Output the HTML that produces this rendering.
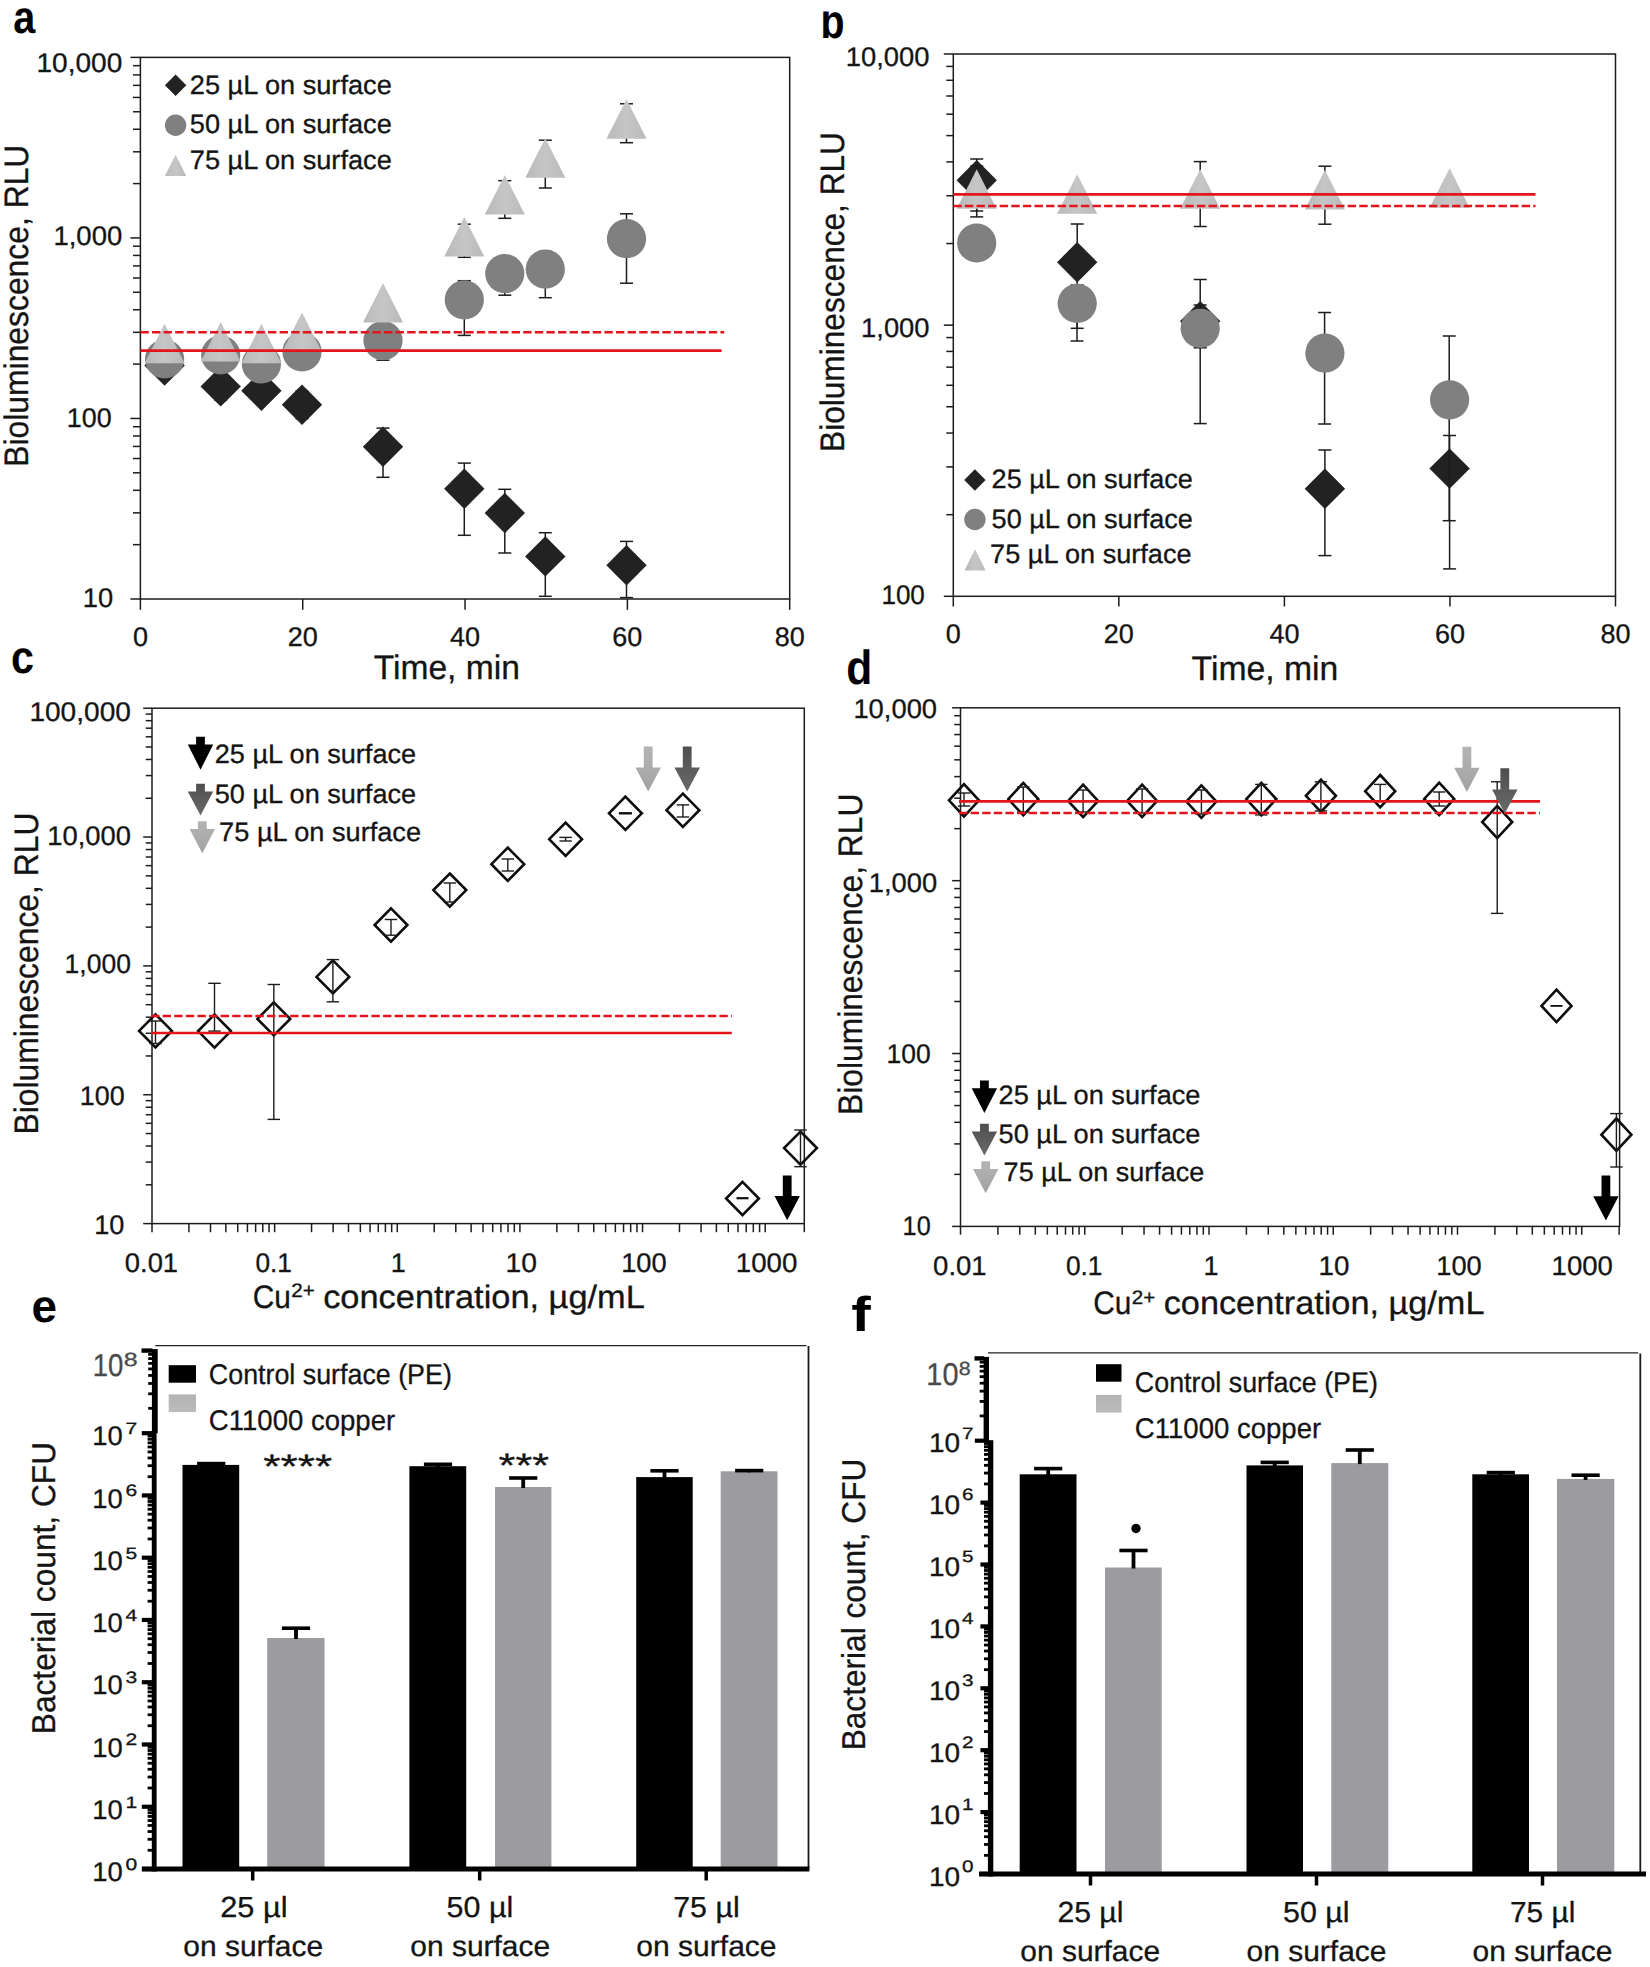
<!DOCTYPE html>
<html lang="en">
<head>
<meta charset="utf-8">
<title>Figure: bioluminescence and bacterial counts on copper surfaces</title>
<style>
html,body{margin:0;padding:0;background:#fff;}
body{width:1650px;height:1967px;overflow:hidden;}
svg{display:block;}
text{stroke:#141414;stroke-width:.3px;}
text[fill="#4a4a4a"]{stroke:#4a4a4a;}
text[font-weight="bold"]{stroke:none;}
</style>
</head>
<body>
<svg width="1650" height="1967" viewBox="0 0 1650 1967" font-family='"Liberation Sans", "DejaVu Sans", sans-serif' fill="#141414" text-rendering="geometricPrecision">
<defs>
<linearGradient id="tg" x1="0" y1="0" x2="1" y2="0"><stop offset="0" stop-color="#b9b9b9"/><stop offset="0.5" stop-color="#c6c6c6"/><stop offset="1" stop-color="#b9b9b9"/></linearGradient>
<linearGradient id="lg" x1="0" y1="0" x2="0" y2="1"><stop offset="0" stop-color="#b4b4b4"/><stop offset="1" stop-color="#a2a2a2"/></linearGradient>
<linearGradient id="dg" x1="0" y1="0" x2="0" y2="1"><stop offset="0" stop-color="#4e4e4e"/><stop offset="1" stop-color="#6a6a6a"/></linearGradient>
<linearGradient id="gsw" x1="0" y1="0" x2="0" y2="1"><stop offset="0" stop-color="#b3b3b3"/><stop offset="1" stop-color="#bcbcbc"/></linearGradient>
<clipPath id="clipb"><rect x="815" y="11.4" width="40" height="40"/></clipPath>
</defs>
<rect x="140.4" y="57.4" width="649.3" height="541.6" fill="none" stroke="#1c1c1c" stroke-width="1.5"/>
<line x1="130.4" y1="57.4" x2="140.4" y2="57.4" stroke="#1c1c1c" stroke-width="1.5"/>
<line x1="133" y1="183.59" x2="140.4" y2="183.59" stroke="#1c1c1c" stroke-width="1.5"/>
<line x1="133" y1="151.8" x2="140.4" y2="151.8" stroke="#1c1c1c" stroke-width="1.5"/>
<line x1="133" y1="129.24" x2="140.4" y2="129.24" stroke="#1c1c1c" stroke-width="1.5"/>
<line x1="133" y1="111.75" x2="140.4" y2="111.75" stroke="#1c1c1c" stroke-width="1.5"/>
<line x1="133" y1="97.45" x2="140.4" y2="97.45" stroke="#1c1c1c" stroke-width="1.5"/>
<line x1="133" y1="85.36" x2="140.4" y2="85.36" stroke="#1c1c1c" stroke-width="1.5"/>
<line x1="133" y1="74.9" x2="140.4" y2="74.9" stroke="#1c1c1c" stroke-width="1.5"/>
<line x1="133" y1="65.66" x2="140.4" y2="65.66" stroke="#1c1c1c" stroke-width="1.5"/>
<line x1="130.4" y1="237.93" x2="140.4" y2="237.93" stroke="#1c1c1c" stroke-width="1.5"/>
<line x1="133" y1="364.12" x2="140.4" y2="364.12" stroke="#1c1c1c" stroke-width="1.5"/>
<line x1="133" y1="332.33" x2="140.4" y2="332.33" stroke="#1c1c1c" stroke-width="1.5"/>
<line x1="133" y1="309.77" x2="140.4" y2="309.77" stroke="#1c1c1c" stroke-width="1.5"/>
<line x1="133" y1="292.28" x2="140.4" y2="292.28" stroke="#1c1c1c" stroke-width="1.5"/>
<line x1="133" y1="277.98" x2="140.4" y2="277.98" stroke="#1c1c1c" stroke-width="1.5"/>
<line x1="133" y1="265.9" x2="140.4" y2="265.9" stroke="#1c1c1c" stroke-width="1.5"/>
<line x1="133" y1="255.43" x2="140.4" y2="255.43" stroke="#1c1c1c" stroke-width="1.5"/>
<line x1="133" y1="246.19" x2="140.4" y2="246.19" stroke="#1c1c1c" stroke-width="1.5"/>
<line x1="130.4" y1="418.47" x2="140.4" y2="418.47" stroke="#1c1c1c" stroke-width="1.5"/>
<line x1="133" y1="544.65" x2="140.4" y2="544.65" stroke="#1c1c1c" stroke-width="1.5"/>
<line x1="133" y1="512.86" x2="140.4" y2="512.86" stroke="#1c1c1c" stroke-width="1.5"/>
<line x1="133" y1="490.31" x2="140.4" y2="490.31" stroke="#1c1c1c" stroke-width="1.5"/>
<line x1="133" y1="472.81" x2="140.4" y2="472.81" stroke="#1c1c1c" stroke-width="1.5"/>
<line x1="133" y1="458.52" x2="140.4" y2="458.52" stroke="#1c1c1c" stroke-width="1.5"/>
<line x1="133" y1="446.43" x2="140.4" y2="446.43" stroke="#1c1c1c" stroke-width="1.5"/>
<line x1="133" y1="435.96" x2="140.4" y2="435.96" stroke="#1c1c1c" stroke-width="1.5"/>
<line x1="133" y1="426.73" x2="140.4" y2="426.73" stroke="#1c1c1c" stroke-width="1.5"/>
<line x1="130.4" y1="599" x2="140.4" y2="599" stroke="#1c1c1c" stroke-width="1.5"/>
<line x1="140.4" y1="599" x2="140.4" y2="609.8" stroke="#1c1c1c" stroke-width="1.5"/>
<text x="140.4" y="646.2" font-size="27" text-anchor="middle">0</text>
<line x1="302.73" y1="599" x2="302.73" y2="609.8" stroke="#1c1c1c" stroke-width="1.5"/>
<text x="302.73" y="646.2" font-size="27" text-anchor="middle">20</text>
<line x1="465.05" y1="599" x2="465.05" y2="609.8" stroke="#1c1c1c" stroke-width="1.5"/>
<text x="465.05" y="646.2" font-size="27" text-anchor="middle">40</text>
<line x1="627.38" y1="599" x2="627.38" y2="609.8" stroke="#1c1c1c" stroke-width="1.5"/>
<text x="627.38" y="646.2" font-size="27" text-anchor="middle">60</text>
<line x1="789.7" y1="599" x2="789.7" y2="609.8" stroke="#1c1c1c" stroke-width="1.5"/>
<text x="789.7" y="646.2" font-size="27" text-anchor="middle">80</text>
<text x="36.52" y="71.5" font-size="27" textLength="85.76" lengthAdjust="spacingAndGlyphs">10,000</text>
<text x="53.42" y="245.4" font-size="27" textLength="68.86" lengthAdjust="spacingAndGlyphs">1,000</text>
<text x="66.82" y="426.5" font-size="27" textLength="44.86" lengthAdjust="spacingAndGlyphs">100</text>
<text x="82.82" y="607.3" font-size="27" textLength="30.36" lengthAdjust="spacingAndGlyphs">10</text>
<text x="373.64" y="678.9" font-size="34" textLength="146.32" lengthAdjust="spacingAndGlyphs">Time, min</text>
<text font-size="34" textLength="322.12" lengthAdjust="spacingAndGlyphs" transform="translate(28.3 466.76) rotate(-90)">Bioluminescence, RLU</text>
<text x="13.2" y="32.6" font-size="46" textLength="22" lengthAdjust="spacingAndGlyphs" font-weight="bold" fill="#000">a</text>
<line x1="220.7" y1="373" x2="220.7" y2="400.1" stroke="#1c1c1c" stroke-width="1.5"/>
<line x1="214.2" y1="373" x2="227.2" y2="373" stroke="#1c1c1c" stroke-width="1.5"/>
<line x1="214.2" y1="400.1" x2="227.2" y2="400.1" stroke="#1c1c1c" stroke-width="1.5"/>
<line x1="302" y1="391" x2="302" y2="418.7" stroke="#1c1c1c" stroke-width="1.5"/>
<line x1="295.5" y1="391" x2="308.5" y2="391" stroke="#1c1c1c" stroke-width="1.5"/>
<line x1="295.5" y1="418.7" x2="308.5" y2="418.7" stroke="#1c1c1c" stroke-width="1.5"/>
<line x1="383" y1="428.1" x2="383" y2="477.3" stroke="#1c1c1c" stroke-width="1.5"/>
<line x1="376.5" y1="428.1" x2="389.5" y2="428.1" stroke="#1c1c1c" stroke-width="1.5"/>
<line x1="376.5" y1="477.3" x2="389.5" y2="477.3" stroke="#1c1c1c" stroke-width="1.5"/>
<line x1="464.3" y1="463.1" x2="464.3" y2="535.3" stroke="#1c1c1c" stroke-width="1.5"/>
<line x1="457.8" y1="463.1" x2="470.8" y2="463.1" stroke="#1c1c1c" stroke-width="1.5"/>
<line x1="457.8" y1="535.3" x2="470.8" y2="535.3" stroke="#1c1c1c" stroke-width="1.5"/>
<line x1="504.8" y1="489.3" x2="504.8" y2="553" stroke="#1c1c1c" stroke-width="1.5"/>
<line x1="498.3" y1="489.3" x2="511.3" y2="489.3" stroke="#1c1c1c" stroke-width="1.5"/>
<line x1="498.3" y1="553" x2="511.3" y2="553" stroke="#1c1c1c" stroke-width="1.5"/>
<line x1="545.3" y1="532.7" x2="545.3" y2="596.3" stroke="#1c1c1c" stroke-width="1.5"/>
<line x1="538.8" y1="532.7" x2="551.8" y2="532.7" stroke="#1c1c1c" stroke-width="1.5"/>
<line x1="538.8" y1="596.3" x2="551.8" y2="596.3" stroke="#1c1c1c" stroke-width="1.5"/>
<line x1="626.5" y1="541.4" x2="626.5" y2="597.6" stroke="#1c1c1c" stroke-width="1.5"/>
<line x1="620" y1="541.4" x2="633" y2="541.4" stroke="#1c1c1c" stroke-width="1.5"/>
<line x1="620" y1="597.6" x2="633" y2="597.6" stroke="#1c1c1c" stroke-width="1.5"/>
<polygon points="164.6,345.3 184.8,365.5 164.6,385.7 144.4,365.5" fill="#222222"/>
<polygon points="220.7,366.2 240.9,386.4 220.7,406.6 200.5,386.4" fill="#222222"/>
<polygon points="261.4,370.5 281.6,390.7 261.4,410.9 241.2,390.7" fill="#222222"/>
<polygon points="302,384.5 322.2,404.7 302,424.9 281.8,404.7" fill="#222222"/>
<polygon points="383,426.5 403.2,446.7 383,466.9 362.8,446.7" fill="#222222"/>
<polygon points="464.3,468.6 484.5,488.8 464.3,509 444.1,488.8" fill="#222222"/>
<polygon points="504.8,492.8 525,513 504.8,533.2 484.6,513" fill="#222222"/>
<polygon points="545.3,536.2 565.5,556.4 545.3,576.6 525.1,556.4" fill="#222222"/>
<polygon points="626.5,545.1 646.7,565.3 626.5,585.5 606.3,565.3" fill="#222222"/>
<line x1="383" y1="322" x2="383" y2="360.2" stroke="#1c1c1c" stroke-width="1.5"/>
<line x1="376.5" y1="322" x2="389.5" y2="322" stroke="#1c1c1c" stroke-width="1.5"/>
<line x1="376.5" y1="360.2" x2="389.5" y2="360.2" stroke="#1c1c1c" stroke-width="1.5"/>
<line x1="464.3" y1="280.7" x2="464.3" y2="335.4" stroke="#1c1c1c" stroke-width="1.5"/>
<line x1="457.8" y1="280.7" x2="470.8" y2="280.7" stroke="#1c1c1c" stroke-width="1.5"/>
<line x1="457.8" y1="335.4" x2="470.8" y2="335.4" stroke="#1c1c1c" stroke-width="1.5"/>
<line x1="504.8" y1="258" x2="504.8" y2="295.2" stroke="#1c1c1c" stroke-width="1.5"/>
<line x1="498.3" y1="258" x2="511.3" y2="258" stroke="#1c1c1c" stroke-width="1.5"/>
<line x1="498.3" y1="295.2" x2="511.3" y2="295.2" stroke="#1c1c1c" stroke-width="1.5"/>
<line x1="545.3" y1="251.4" x2="545.3" y2="297.7" stroke="#1c1c1c" stroke-width="1.5"/>
<line x1="538.8" y1="251.4" x2="551.8" y2="251.4" stroke="#1c1c1c" stroke-width="1.5"/>
<line x1="538.8" y1="297.7" x2="551.8" y2="297.7" stroke="#1c1c1c" stroke-width="1.5"/>
<line x1="626.5" y1="213.8" x2="626.5" y2="283.2" stroke="#1c1c1c" stroke-width="1.5"/>
<line x1="620" y1="213.8" x2="633" y2="213.8" stroke="#1c1c1c" stroke-width="1.5"/>
<line x1="620" y1="283.2" x2="633" y2="283.2" stroke="#1c1c1c" stroke-width="1.5"/>
<circle cx="164.6" cy="359" r="19.6" fill="#808080"/>
<circle cx="220.7" cy="355" r="19.6" fill="#808080"/>
<circle cx="261.4" cy="364" r="19.6" fill="#808080"/>
<circle cx="302" cy="351.8" r="19.6" fill="#808080"/>
<circle cx="383" cy="340.6" r="19.6" fill="#808080"/>
<circle cx="464.3" cy="299.8" r="19.6" fill="#808080"/>
<circle cx="504.8" cy="273.6" r="19.6" fill="#808080"/>
<circle cx="545.3" cy="269.2" r="19.6" fill="#808080"/>
<circle cx="626.5" cy="238.7" r="19.6" fill="#808080"/>
<line x1="464.3" y1="224.2" x2="464.3" y2="257.3" stroke="#1c1c1c" stroke-width="1.5"/>
<line x1="457.8" y1="224.2" x2="470.8" y2="224.2" stroke="#1c1c1c" stroke-width="1.5"/>
<line x1="457.8" y1="257.3" x2="470.8" y2="257.3" stroke="#1c1c1c" stroke-width="1.5"/>
<line x1="504.8" y1="180.7" x2="504.8" y2="218.3" stroke="#1c1c1c" stroke-width="1.5"/>
<line x1="498.3" y1="180.7" x2="511.3" y2="180.7" stroke="#1c1c1c" stroke-width="1.5"/>
<line x1="498.3" y1="218.3" x2="511.3" y2="218.3" stroke="#1c1c1c" stroke-width="1.5"/>
<line x1="545.3" y1="140.2" x2="545.3" y2="188" stroke="#1c1c1c" stroke-width="1.5"/>
<line x1="538.8" y1="140.2" x2="551.8" y2="140.2" stroke="#1c1c1c" stroke-width="1.5"/>
<line x1="538.8" y1="188" x2="551.8" y2="188" stroke="#1c1c1c" stroke-width="1.5"/>
<line x1="626.5" y1="103.8" x2="626.5" y2="142.7" stroke="#1c1c1c" stroke-width="1.5"/>
<line x1="620" y1="103.8" x2="633" y2="103.8" stroke="#1c1c1c" stroke-width="1.5"/>
<line x1="620" y1="142.7" x2="633" y2="142.7" stroke="#1c1c1c" stroke-width="1.5"/>
<polygon points="164.6,323.8 184.6,363.3 144.6,363.3" fill="url(#tg)"/>
<polygon points="220.7,322 240.7,361.5 200.7,361.5" fill="url(#tg)"/>
<polygon points="261.4,323.8 281.4,363.3 241.4,363.3" fill="url(#tg)"/>
<polygon points="302,312.6 322,352.1 282,352.1" fill="url(#tg)"/>
<polygon points="383,283 403,322.5 363,322.5" fill="url(#tg)"/>
<polygon points="464.3,217 484.3,256.5 444.3,256.5" fill="url(#tg)"/>
<polygon points="504.8,175 524.8,214.5 484.8,214.5" fill="url(#tg)"/>
<polygon points="545.3,138.2 565.3,177.7 525.3,177.7" fill="url(#tg)"/>
<polygon points="626.5,99.2 646.5,138.7 606.5,138.7" fill="url(#tg)"/>
<line x1="140.4" y1="332.2" x2="724.2" y2="332.2" stroke="#e3141c" stroke-width="2.6" stroke-dasharray="8.4 3.2"/>
<line x1="140.4" y1="350.6" x2="721.6" y2="350.6" stroke="#e3141c" stroke-width="2.7"/>
<polygon points="175.6,74.6 186.3,85.3 175.6,96 164.9,85.3" fill="#222222"/>
<circle cx="175.6" cy="125.2" r="10.7" fill="#808080"/>
<polygon points="175.6,154.7 186.25,176.1 164.95,176.1" fill="url(#tg)"/>
<text x="189.84" y="94" font-size="26.5" textLength="201.92" lengthAdjust="spacingAndGlyphs">25 µL on surface</text>
<text x="189.84" y="132.9" font-size="26.5" textLength="201.92" lengthAdjust="spacingAndGlyphs">50 µL on surface</text>
<text x="189.84" y="168.6" font-size="26.5" textLength="201.92" lengthAdjust="spacingAndGlyphs">75 µL on surface</text>
<!-- b -->
<rect x="953.3" y="54" width="662.2" height="542.3" fill="none" stroke="#1c1c1c" stroke-width="1.5"/>
<line x1="943.8" y1="54" x2="953.3" y2="54" stroke="#1c1c1c" stroke-width="1.5"/>
<line x1="946.3" y1="243.53" x2="953.3" y2="243.53" stroke="#1c1c1c" stroke-width="1.5"/>
<line x1="946.3" y1="195.78" x2="953.3" y2="195.78" stroke="#1c1c1c" stroke-width="1.5"/>
<line x1="946.3" y1="161.9" x2="953.3" y2="161.9" stroke="#1c1c1c" stroke-width="1.5"/>
<line x1="946.3" y1="135.62" x2="953.3" y2="135.62" stroke="#1c1c1c" stroke-width="1.5"/>
<line x1="946.3" y1="114.15" x2="953.3" y2="114.15" stroke="#1c1c1c" stroke-width="1.5"/>
<line x1="946.3" y1="96" x2="953.3" y2="96" stroke="#1c1c1c" stroke-width="1.5"/>
<line x1="946.3" y1="80.28" x2="953.3" y2="80.28" stroke="#1c1c1c" stroke-width="1.5"/>
<line x1="946.3" y1="66.41" x2="953.3" y2="66.41" stroke="#1c1c1c" stroke-width="1.5"/>
<line x1="943.8" y1="325.15" x2="953.3" y2="325.15" stroke="#1c1c1c" stroke-width="1.5"/>
<line x1="946.3" y1="514.68" x2="953.3" y2="514.68" stroke="#1c1c1c" stroke-width="1.5"/>
<line x1="946.3" y1="466.93" x2="953.3" y2="466.93" stroke="#1c1c1c" stroke-width="1.5"/>
<line x1="946.3" y1="433.05" x2="953.3" y2="433.05" stroke="#1c1c1c" stroke-width="1.5"/>
<line x1="946.3" y1="406.77" x2="953.3" y2="406.77" stroke="#1c1c1c" stroke-width="1.5"/>
<line x1="946.3" y1="385.3" x2="953.3" y2="385.3" stroke="#1c1c1c" stroke-width="1.5"/>
<line x1="946.3" y1="367.15" x2="953.3" y2="367.15" stroke="#1c1c1c" stroke-width="1.5"/>
<line x1="946.3" y1="351.43" x2="953.3" y2="351.43" stroke="#1c1c1c" stroke-width="1.5"/>
<line x1="946.3" y1="337.56" x2="953.3" y2="337.56" stroke="#1c1c1c" stroke-width="1.5"/>
<line x1="943.8" y1="596.3" x2="953.3" y2="596.3" stroke="#1c1c1c" stroke-width="1.5"/>
<line x1="953.3" y1="596.3" x2="953.3" y2="606.5" stroke="#1c1c1c" stroke-width="1.5"/>
<text x="953.3" y="642.6" font-size="27" text-anchor="middle">0</text>
<line x1="1118.85" y1="596.3" x2="1118.85" y2="606.5" stroke="#1c1c1c" stroke-width="1.5"/>
<text x="1118.85" y="642.6" font-size="27" text-anchor="middle">20</text>
<line x1="1284.4" y1="596.3" x2="1284.4" y2="606.5" stroke="#1c1c1c" stroke-width="1.5"/>
<text x="1284.4" y="642.6" font-size="27" text-anchor="middle">40</text>
<line x1="1449.95" y1="596.3" x2="1449.95" y2="606.5" stroke="#1c1c1c" stroke-width="1.5"/>
<text x="1449.95" y="642.6" font-size="27" text-anchor="middle">60</text>
<line x1="1615.5" y1="596.3" x2="1615.5" y2="606.5" stroke="#1c1c1c" stroke-width="1.5"/>
<text x="1615.5" y="642.6" font-size="27" text-anchor="middle">80</text>
<text x="845.82" y="66" font-size="27" textLength="83.66" lengthAdjust="spacingAndGlyphs">10,000</text>
<text x="861.12" y="336.8" font-size="27" textLength="68.36" lengthAdjust="spacingAndGlyphs">1,000</text>
<text x="881.42" y="604.3" font-size="27" textLength="43.46" lengthAdjust="spacingAndGlyphs">100</text>
<text x="1191.54" y="679.8" font-size="34" textLength="146.82" lengthAdjust="spacingAndGlyphs">Time, min</text>
<text font-size="34" textLength="319.92" lengthAdjust="spacingAndGlyphs" transform="translate(844.4 451.96) rotate(-90)">Bioluminescence, RLU</text>
<text x="820.6" y="38" font-size="48" textLength="24" lengthAdjust="spacingAndGlyphs" font-weight="bold" fill="#000" clip-path="url(#clipb)">b</text>
<line x1="976.7" y1="159" x2="976.7" y2="216.9" stroke="#1c1c1c" stroke-width="1.5"/>
<line x1="970.2" y1="159" x2="983.2" y2="159" stroke="#1c1c1c" stroke-width="1.5"/>
<line x1="970.2" y1="216.9" x2="983.2" y2="216.9" stroke="#1c1c1c" stroke-width="1.5"/>
<line x1="1077.2" y1="224" x2="1077.2" y2="328.3" stroke="#1c1c1c" stroke-width="1.5"/>
<line x1="1070.7" y1="224" x2="1083.7" y2="224" stroke="#1c1c1c" stroke-width="1.5"/>
<line x1="1070.7" y1="328.3" x2="1083.7" y2="328.3" stroke="#1c1c1c" stroke-width="1.5"/>
<line x1="1200.2" y1="279.5" x2="1200.2" y2="347.8" stroke="#1c1c1c" stroke-width="1.5"/>
<line x1="1193.7" y1="279.5" x2="1206.7" y2="279.5" stroke="#1c1c1c" stroke-width="1.5"/>
<line x1="1193.7" y1="347.8" x2="1206.7" y2="347.8" stroke="#1c1c1c" stroke-width="1.5"/>
<line x1="1324.9" y1="450" x2="1324.9" y2="555.6" stroke="#1c1c1c" stroke-width="1.5"/>
<line x1="1318.4" y1="450" x2="1331.4" y2="450" stroke="#1c1c1c" stroke-width="1.5"/>
<line x1="1318.4" y1="555.6" x2="1331.4" y2="555.6" stroke="#1c1c1c" stroke-width="1.5"/>
<line x1="1449.6" y1="435.5" x2="1449.6" y2="568.9" stroke="#1c1c1c" stroke-width="1.5"/>
<line x1="1443.1" y1="435.5" x2="1456.1" y2="435.5" stroke="#1c1c1c" stroke-width="1.5"/>
<line x1="1443.1" y1="568.9" x2="1456.1" y2="568.9" stroke="#1c1c1c" stroke-width="1.5"/>
<polygon points="976.7,160 996.9,180.2 976.7,200.4 956.5,180.2" fill="#222222"/>
<polygon points="1077.2,242 1097.4,262.2 1077.2,282.4 1057,262.2" fill="#222222"/>
<polygon points="1200.2,301 1220.4,321.2 1200.2,341.4 1180,321.2" fill="#222222"/>
<polygon points="1324.9,468.5 1345.1,488.7 1324.9,508.9 1304.7,488.7" fill="#222222"/>
<polygon points="1449.6,448.4 1469.8,468.6 1449.6,488.8 1429.4,468.6" fill="#222222"/>
<line x1="1077" y1="285" x2="1077" y2="341" stroke="#1c1c1c" stroke-width="1.5"/>
<line x1="1070.5" y1="285" x2="1083.5" y2="285" stroke="#1c1c1c" stroke-width="1.5"/>
<line x1="1070.5" y1="341" x2="1083.5" y2="341" stroke="#1c1c1c" stroke-width="1.5"/>
<line x1="1200.2" y1="305" x2="1200.2" y2="423.6" stroke="#1c1c1c" stroke-width="1.5"/>
<line x1="1193.7" y1="305" x2="1206.7" y2="305" stroke="#1c1c1c" stroke-width="1.5"/>
<line x1="1193.7" y1="423.6" x2="1206.7" y2="423.6" stroke="#1c1c1c" stroke-width="1.5"/>
<line x1="1324.6" y1="312.5" x2="1324.6" y2="424" stroke="#1c1c1c" stroke-width="1.5"/>
<line x1="1318.1" y1="312.5" x2="1331.1" y2="312.5" stroke="#1c1c1c" stroke-width="1.5"/>
<line x1="1318.1" y1="424" x2="1331.1" y2="424" stroke="#1c1c1c" stroke-width="1.5"/>
<line x1="1449.2" y1="336" x2="1449.2" y2="520.7" stroke="#1c1c1c" stroke-width="1.5"/>
<line x1="1442.7" y1="336" x2="1455.7" y2="336" stroke="#1c1c1c" stroke-width="1.5"/>
<line x1="1442.7" y1="520.7" x2="1455.7" y2="520.7" stroke="#1c1c1c" stroke-width="1.5"/>
<circle cx="976.7" cy="243" r="19.6" fill="#808080"/>
<circle cx="1077.2" cy="303.4" r="19.6" fill="#808080"/>
<circle cx="1200.2" cy="328.3" r="19.6" fill="#808080"/>
<circle cx="1324.9" cy="353.2" r="19.6" fill="#808080"/>
<circle cx="1449.6" cy="399.8" r="19.6" fill="#808080"/>
<line x1="976.7" y1="166" x2="976.7" y2="211" stroke="#1c1c1c" stroke-width="1.5"/>
<line x1="970.2" y1="166" x2="983.2" y2="166" stroke="#1c1c1c" stroke-width="1.5"/>
<line x1="970.2" y1="211" x2="983.2" y2="211" stroke="#1c1c1c" stroke-width="1.5"/>
<line x1="1200.2" y1="161.6" x2="1200.2" y2="226.5" stroke="#1c1c1c" stroke-width="1.5"/>
<line x1="1193.7" y1="161.6" x2="1206.7" y2="161.6" stroke="#1c1c1c" stroke-width="1.5"/>
<line x1="1193.7" y1="226.5" x2="1206.7" y2="226.5" stroke="#1c1c1c" stroke-width="1.5"/>
<line x1="1324.9" y1="166.2" x2="1324.9" y2="224.2" stroke="#1c1c1c" stroke-width="1.5"/>
<line x1="1318.4" y1="166.2" x2="1331.4" y2="166.2" stroke="#1c1c1c" stroke-width="1.5"/>
<line x1="1318.4" y1="224.2" x2="1331.4" y2="224.2" stroke="#1c1c1c" stroke-width="1.5"/>
<polygon points="976.7,169.3 996.7,208.8 956.7,208.8" fill="url(#tg)"/>
<polygon points="1077.2,174.3 1097.2,213.8 1057.2,213.8" fill="url(#tg)"/>
<polygon points="1200.2,169.3 1220.2,208.8 1180.2,208.8" fill="url(#tg)"/>
<polygon points="1324.9,170 1344.9,209.5 1304.9,209.5" fill="url(#tg)"/>
<polygon points="1449.6,168.2 1469.6,207.7 1429.6,207.7" fill="url(#tg)"/>
<line x1="953.3" y1="194.4" x2="1535.5" y2="194.4" stroke="#e3141c" stroke-width="2.9"/>
<line x1="953.3" y1="205.9" x2="1535.5" y2="205.9" stroke="#e3141c" stroke-width="2.5" stroke-dasharray="8.4 3.2"/>
<polygon points="974.9,469.3 985.6,480 974.9,490.7 964.2,480" fill="#222222"/>
<circle cx="974.9" cy="519.5" r="10.7" fill="#808080"/>
<polygon points="975,549.3 985.55,570.4 964.45,570.4" fill="url(#tg)"/>
<text x="991.64" y="488.2" font-size="26.5" textLength="201.22" lengthAdjust="spacingAndGlyphs">25 µL on surface</text>
<text x="991.64" y="528.4" font-size="26.5" textLength="201.22" lengthAdjust="spacingAndGlyphs">50 µL on surface</text>
<text x="990.14" y="563.3" font-size="26.5" textLength="201.42" lengthAdjust="spacingAndGlyphs">75 µL on surface</text>
<!-- c -->
<rect x="152" y="708.2" width="652.3" height="515.4" fill="none" stroke="#1c1c1c" stroke-width="1.5"/>
<line x1="143.2" y1="708.2" x2="152" y2="708.2" stroke="#1c1c1c" stroke-width="1.5"/>
<line x1="145.7" y1="798.26" x2="152" y2="798.26" stroke="#1c1c1c" stroke-width="1.5"/>
<line x1="145.7" y1="775.57" x2="152" y2="775.57" stroke="#1c1c1c" stroke-width="1.5"/>
<line x1="145.7" y1="759.47" x2="152" y2="759.47" stroke="#1c1c1c" stroke-width="1.5"/>
<line x1="145.7" y1="746.99" x2="152" y2="746.99" stroke="#1c1c1c" stroke-width="1.5"/>
<line x1="145.7" y1="736.79" x2="152" y2="736.79" stroke="#1c1c1c" stroke-width="1.5"/>
<line x1="145.7" y1="728.16" x2="152" y2="728.16" stroke="#1c1c1c" stroke-width="1.5"/>
<line x1="145.7" y1="720.69" x2="152" y2="720.69" stroke="#1c1c1c" stroke-width="1.5"/>
<line x1="145.7" y1="714.1" x2="152" y2="714.1" stroke="#1c1c1c" stroke-width="1.5"/>
<line x1="143.2" y1="837.05" x2="152" y2="837.05" stroke="#1c1c1c" stroke-width="1.5"/>
<line x1="145.7" y1="927.11" x2="152" y2="927.11" stroke="#1c1c1c" stroke-width="1.5"/>
<line x1="145.7" y1="904.42" x2="152" y2="904.42" stroke="#1c1c1c" stroke-width="1.5"/>
<line x1="145.7" y1="888.32" x2="152" y2="888.32" stroke="#1c1c1c" stroke-width="1.5"/>
<line x1="145.7" y1="875.84" x2="152" y2="875.84" stroke="#1c1c1c" stroke-width="1.5"/>
<line x1="145.7" y1="865.64" x2="152" y2="865.64" stroke="#1c1c1c" stroke-width="1.5"/>
<line x1="145.7" y1="857.01" x2="152" y2="857.01" stroke="#1c1c1c" stroke-width="1.5"/>
<line x1="145.7" y1="849.54" x2="152" y2="849.54" stroke="#1c1c1c" stroke-width="1.5"/>
<line x1="145.7" y1="842.95" x2="152" y2="842.95" stroke="#1c1c1c" stroke-width="1.5"/>
<line x1="143.2" y1="965.9" x2="152" y2="965.9" stroke="#1c1c1c" stroke-width="1.5"/>
<line x1="145.7" y1="1055.96" x2="152" y2="1055.96" stroke="#1c1c1c" stroke-width="1.5"/>
<line x1="145.7" y1="1033.27" x2="152" y2="1033.27" stroke="#1c1c1c" stroke-width="1.5"/>
<line x1="145.7" y1="1017.17" x2="152" y2="1017.17" stroke="#1c1c1c" stroke-width="1.5"/>
<line x1="145.7" y1="1004.69" x2="152" y2="1004.69" stroke="#1c1c1c" stroke-width="1.5"/>
<line x1="145.7" y1="994.49" x2="152" y2="994.49" stroke="#1c1c1c" stroke-width="1.5"/>
<line x1="145.7" y1="985.86" x2="152" y2="985.86" stroke="#1c1c1c" stroke-width="1.5"/>
<line x1="145.7" y1="978.39" x2="152" y2="978.39" stroke="#1c1c1c" stroke-width="1.5"/>
<line x1="145.7" y1="971.8" x2="152" y2="971.8" stroke="#1c1c1c" stroke-width="1.5"/>
<line x1="143.2" y1="1094.75" x2="152" y2="1094.75" stroke="#1c1c1c" stroke-width="1.5"/>
<line x1="145.7" y1="1184.81" x2="152" y2="1184.81" stroke="#1c1c1c" stroke-width="1.5"/>
<line x1="145.7" y1="1162.12" x2="152" y2="1162.12" stroke="#1c1c1c" stroke-width="1.5"/>
<line x1="145.7" y1="1146.02" x2="152" y2="1146.02" stroke="#1c1c1c" stroke-width="1.5"/>
<line x1="145.7" y1="1133.54" x2="152" y2="1133.54" stroke="#1c1c1c" stroke-width="1.5"/>
<line x1="145.7" y1="1123.34" x2="152" y2="1123.34" stroke="#1c1c1c" stroke-width="1.5"/>
<line x1="145.7" y1="1114.71" x2="152" y2="1114.71" stroke="#1c1c1c" stroke-width="1.5"/>
<line x1="145.7" y1="1107.24" x2="152" y2="1107.24" stroke="#1c1c1c" stroke-width="1.5"/>
<line x1="145.7" y1="1100.65" x2="152" y2="1100.65" stroke="#1c1c1c" stroke-width="1.5"/>
<line x1="143.2" y1="1223.6" x2="152" y2="1223.6" stroke="#1c1c1c" stroke-width="1.5"/>
<line x1="152" y1="1223.6" x2="152" y2="1232.2" stroke="#1c1c1c" stroke-width="1.5"/>
<line x1="188.92" y1="1223.6" x2="188.92" y2="1232.2" stroke="#1c1c1c" stroke-width="1.5"/>
<line x1="210.51" y1="1223.6" x2="210.51" y2="1232.2" stroke="#1c1c1c" stroke-width="1.5"/>
<line x1="225.84" y1="1223.6" x2="225.84" y2="1232.2" stroke="#1c1c1c" stroke-width="1.5"/>
<line x1="237.72" y1="1223.6" x2="237.72" y2="1232.2" stroke="#1c1c1c" stroke-width="1.5"/>
<line x1="247.43" y1="1223.6" x2="247.43" y2="1232.2" stroke="#1c1c1c" stroke-width="1.5"/>
<line x1="255.64" y1="1223.6" x2="255.64" y2="1232.2" stroke="#1c1c1c" stroke-width="1.5"/>
<line x1="262.75" y1="1223.6" x2="262.75" y2="1232.2" stroke="#1c1c1c" stroke-width="1.5"/>
<line x1="269.03" y1="1223.6" x2="269.03" y2="1232.2" stroke="#1c1c1c" stroke-width="1.5"/>
<line x1="274.64" y1="1223.6" x2="274.64" y2="1232.2" stroke="#1c1c1c" stroke-width="1.5"/>
<line x1="311.56" y1="1223.6" x2="311.56" y2="1232.2" stroke="#1c1c1c" stroke-width="1.5"/>
<line x1="333.15" y1="1223.6" x2="333.15" y2="1232.2" stroke="#1c1c1c" stroke-width="1.5"/>
<line x1="348.48" y1="1223.6" x2="348.48" y2="1232.2" stroke="#1c1c1c" stroke-width="1.5"/>
<line x1="360.36" y1="1223.6" x2="360.36" y2="1232.2" stroke="#1c1c1c" stroke-width="1.5"/>
<line x1="370.07" y1="1223.6" x2="370.07" y2="1232.2" stroke="#1c1c1c" stroke-width="1.5"/>
<line x1="378.28" y1="1223.6" x2="378.28" y2="1232.2" stroke="#1c1c1c" stroke-width="1.5"/>
<line x1="385.39" y1="1223.6" x2="385.39" y2="1232.2" stroke="#1c1c1c" stroke-width="1.5"/>
<line x1="391.67" y1="1223.6" x2="391.67" y2="1232.2" stroke="#1c1c1c" stroke-width="1.5"/>
<line x1="397.28" y1="1223.6" x2="397.28" y2="1232.2" stroke="#1c1c1c" stroke-width="1.5"/>
<line x1="434.2" y1="1223.6" x2="434.2" y2="1232.2" stroke="#1c1c1c" stroke-width="1.5"/>
<line x1="455.79" y1="1223.6" x2="455.79" y2="1232.2" stroke="#1c1c1c" stroke-width="1.5"/>
<line x1="471.12" y1="1223.6" x2="471.12" y2="1232.2" stroke="#1c1c1c" stroke-width="1.5"/>
<line x1="483" y1="1223.6" x2="483" y2="1232.2" stroke="#1c1c1c" stroke-width="1.5"/>
<line x1="492.71" y1="1223.6" x2="492.71" y2="1232.2" stroke="#1c1c1c" stroke-width="1.5"/>
<line x1="500.92" y1="1223.6" x2="500.92" y2="1232.2" stroke="#1c1c1c" stroke-width="1.5"/>
<line x1="508.03" y1="1223.6" x2="508.03" y2="1232.2" stroke="#1c1c1c" stroke-width="1.5"/>
<line x1="514.31" y1="1223.6" x2="514.31" y2="1232.2" stroke="#1c1c1c" stroke-width="1.5"/>
<line x1="519.92" y1="1223.6" x2="519.92" y2="1232.2" stroke="#1c1c1c" stroke-width="1.5"/>
<line x1="556.84" y1="1223.6" x2="556.84" y2="1232.2" stroke="#1c1c1c" stroke-width="1.5"/>
<line x1="578.43" y1="1223.6" x2="578.43" y2="1232.2" stroke="#1c1c1c" stroke-width="1.5"/>
<line x1="593.76" y1="1223.6" x2="593.76" y2="1232.2" stroke="#1c1c1c" stroke-width="1.5"/>
<line x1="605.64" y1="1223.6" x2="605.64" y2="1232.2" stroke="#1c1c1c" stroke-width="1.5"/>
<line x1="615.35" y1="1223.6" x2="615.35" y2="1232.2" stroke="#1c1c1c" stroke-width="1.5"/>
<line x1="623.56" y1="1223.6" x2="623.56" y2="1232.2" stroke="#1c1c1c" stroke-width="1.5"/>
<line x1="630.67" y1="1223.6" x2="630.67" y2="1232.2" stroke="#1c1c1c" stroke-width="1.5"/>
<line x1="636.95" y1="1223.6" x2="636.95" y2="1232.2" stroke="#1c1c1c" stroke-width="1.5"/>
<line x1="642.56" y1="1223.6" x2="642.56" y2="1232.2" stroke="#1c1c1c" stroke-width="1.5"/>
<line x1="679.48" y1="1223.6" x2="679.48" y2="1232.2" stroke="#1c1c1c" stroke-width="1.5"/>
<line x1="701.07" y1="1223.6" x2="701.07" y2="1232.2" stroke="#1c1c1c" stroke-width="1.5"/>
<line x1="716.4" y1="1223.6" x2="716.4" y2="1232.2" stroke="#1c1c1c" stroke-width="1.5"/>
<line x1="728.28" y1="1223.6" x2="728.28" y2="1232.2" stroke="#1c1c1c" stroke-width="1.5"/>
<line x1="737.99" y1="1223.6" x2="737.99" y2="1232.2" stroke="#1c1c1c" stroke-width="1.5"/>
<line x1="746.2" y1="1223.6" x2="746.2" y2="1232.2" stroke="#1c1c1c" stroke-width="1.5"/>
<line x1="753.31" y1="1223.6" x2="753.31" y2="1232.2" stroke="#1c1c1c" stroke-width="1.5"/>
<line x1="759.59" y1="1223.6" x2="759.59" y2="1232.2" stroke="#1c1c1c" stroke-width="1.5"/>
<line x1="765.2" y1="1223.6" x2="765.2" y2="1232.2" stroke="#1c1c1c" stroke-width="1.5"/>
<line x1="804.3" y1="1223.6" x2="804.3" y2="1232.2" stroke="#1c1c1c" stroke-width="1.5"/>
<text x="29.42" y="721" font-size="27" textLength="101.46" lengthAdjust="spacingAndGlyphs">100,000</text>
<text x="47.32" y="845.2" font-size="27" textLength="83.56" lengthAdjust="spacingAndGlyphs">10,000</text>
<text x="64.62" y="972.6" font-size="27" textLength="66.26" lengthAdjust="spacingAndGlyphs">1,000</text>
<text x="79.82" y="1104.5" font-size="27" textLength="44.86" lengthAdjust="spacingAndGlyphs">100</text>
<text x="94.22" y="1233.6" font-size="27" textLength="30.16" lengthAdjust="spacingAndGlyphs">10</text>
<text x="124.82" y="1272.4" font-size="27" textLength="53.26" lengthAdjust="spacingAndGlyphs">0.01</text>
<text x="255.42" y="1272.4" font-size="27" textLength="36.56" lengthAdjust="spacingAndGlyphs">0.1</text>
<text x="505.42" y="1272.4" font-size="27" textLength="31.46" lengthAdjust="spacingAndGlyphs">10</text>
<text x="621.22" y="1272.4" font-size="27" textLength="45.46" lengthAdjust="spacingAndGlyphs">100</text>
<text x="735.82" y="1272.4" font-size="27" textLength="61.46" lengthAdjust="spacingAndGlyphs">1000</text>
<text x="398.3" y="1272.4" font-size="27" text-anchor="middle">1</text>
<text x="252.7" y="1307.6" font-size="32.5" textLength="38.1" lengthAdjust="spacingAndGlyphs">Cu</text>
<text x="291.22" y="1297.2" font-size="19.5" textLength="23.56" lengthAdjust="spacingAndGlyphs">2+</text>
<text x="323.2" y="1307.6" font-size="32.5" textLength="321.6" lengthAdjust="spacingAndGlyphs">concentration, µg/mL</text>
<text font-size="34" textLength="321.92" lengthAdjust="spacingAndGlyphs" transform="translate(37.6 1134.56) rotate(-90)">Bioluminescence, RLU</text>
<text x="11" y="673.4" font-size="46" textLength="23" lengthAdjust="spacingAndGlyphs" font-weight="bold" fill="#000">c</text>
<polygon points="155.5,1014.3 171.9,1030.9 155.5,1047.5 139.1,1030.9" fill="none" stroke="#0d0d0d" stroke-width="2.6" stroke-linejoin="miter"/>
<polygon points="214.5,1014.5 230.9,1031.1 214.5,1047.7 198.1,1031.1" fill="none" stroke="#0d0d0d" stroke-width="2.6" stroke-linejoin="miter"/>
<polygon points="273.8,1002.3 290.2,1018.9 273.8,1035.5 257.4,1018.9" fill="none" stroke="#0d0d0d" stroke-width="2.6" stroke-linejoin="miter"/>
<polygon points="332.9,960.3 349.3,976.9 332.9,993.5 316.5,976.9" fill="none" stroke="#0d0d0d" stroke-width="2.6" stroke-linejoin="miter"/>
<polygon points="391,908.4 407.4,925 391,941.6 374.6,925" fill="none" stroke="#0d0d0d" stroke-width="2.6" stroke-linejoin="miter"/>
<polygon points="449.8,873.5 466.2,890.1 449.8,906.7 433.4,890.1" fill="none" stroke="#0d0d0d" stroke-width="2.6" stroke-linejoin="miter"/>
<polygon points="507.8,847.6 524.2,864.2 507.8,880.8 491.4,864.2" fill="none" stroke="#0d0d0d" stroke-width="2.6" stroke-linejoin="miter"/>
<polygon points="565.6,822.6 582,839.2 565.6,855.8 549.2,839.2" fill="none" stroke="#0d0d0d" stroke-width="2.6" stroke-linejoin="miter"/>
<polygon points="625.4,796.7 641.8,813.3 625.4,829.9 609,813.3" fill="none" stroke="#0d0d0d" stroke-width="2.6" stroke-linejoin="miter"/>
<polygon points="682.9,793.6 699.3,810.2 682.9,826.8 666.5,810.2" fill="none" stroke="#0d0d0d" stroke-width="2.6" stroke-linejoin="miter"/>
<polygon points="742.5,1181.9 758.9,1198.5 742.5,1215.1 726.1,1198.5" fill="none" stroke="#0d0d0d" stroke-width="2.6" stroke-linejoin="miter"/>
<polygon points="800.5,1131.5 816.9,1148.1 800.5,1164.7 784.1,1148.1" fill="none" stroke="#0d0d0d" stroke-width="2.6" stroke-linejoin="miter"/>
<line x1="155.5" y1="1021" x2="155.5" y2="1043.5" stroke="#1c1c1c" stroke-width="1.4"/>
<line x1="149.3" y1="1021" x2="161.7" y2="1021" stroke="#1c1c1c" stroke-width="1.4"/>
<line x1="149.3" y1="1043.5" x2="161.7" y2="1043.5" stroke="#1c1c1c" stroke-width="1.4"/>
<line x1="214.5" y1="983.3" x2="214.5" y2="1031.1" stroke="#1c1c1c" stroke-width="1.4"/>
<line x1="208.3" y1="983.3" x2="220.7" y2="983.3" stroke="#1c1c1c" stroke-width="1.4"/>
<line x1="208.3" y1="1031.1" x2="220.7" y2="1031.1" stroke="#1c1c1c" stroke-width="1.4"/>
<line x1="273.8" y1="984.5" x2="273.8" y2="1119.4" stroke="#1c1c1c" stroke-width="1.4"/>
<line x1="267.6" y1="984.5" x2="280" y2="984.5" stroke="#1c1c1c" stroke-width="1.4"/>
<line x1="267.6" y1="1119.4" x2="280" y2="1119.4" stroke="#1c1c1c" stroke-width="1.4"/>
<line x1="332.9" y1="959.6" x2="332.9" y2="1001.8" stroke="#1c1c1c" stroke-width="1.4"/>
<line x1="326.7" y1="959.6" x2="339.1" y2="959.6" stroke="#1c1c1c" stroke-width="1.4"/>
<line x1="326.7" y1="1001.8" x2="339.1" y2="1001.8" stroke="#1c1c1c" stroke-width="1.4"/>
<line x1="391" y1="919.5" x2="391" y2="935.2" stroke="#1c1c1c" stroke-width="1.4"/>
<line x1="384.8" y1="919.5" x2="397.2" y2="919.5" stroke="#1c1c1c" stroke-width="1.4"/>
<line x1="384.8" y1="935.2" x2="397.2" y2="935.2" stroke="#1c1c1c" stroke-width="1.4"/>
<line x1="449.8" y1="883" x2="449.8" y2="902" stroke="#1c1c1c" stroke-width="1.4"/>
<line x1="443.6" y1="883" x2="456" y2="883" stroke="#1c1c1c" stroke-width="1.4"/>
<line x1="443.6" y1="902" x2="456" y2="902" stroke="#1c1c1c" stroke-width="1.4"/>
<line x1="507.8" y1="859" x2="507.8" y2="871" stroke="#1c1c1c" stroke-width="1.4"/>
<line x1="501.6" y1="859" x2="514" y2="859" stroke="#1c1c1c" stroke-width="1.4"/>
<line x1="501.6" y1="871" x2="514" y2="871" stroke="#1c1c1c" stroke-width="1.4"/>
<line x1="565.6" y1="837.4" x2="565.6" y2="841" stroke="#1c1c1c" stroke-width="1.4"/>
<line x1="559.4" y1="837.4" x2="571.8" y2="837.4" stroke="#1c1c1c" stroke-width="1.4"/>
<line x1="559.4" y1="841" x2="571.8" y2="841" stroke="#1c1c1c" stroke-width="1.4"/>
<line x1="682.9" y1="804.9" x2="682.9" y2="817" stroke="#1c1c1c" stroke-width="1.4"/>
<line x1="676.7" y1="804.9" x2="689.1" y2="804.9" stroke="#1c1c1c" stroke-width="1.4"/>
<line x1="676.7" y1="817" x2="689.1" y2="817" stroke="#1c1c1c" stroke-width="1.4"/>
<line x1="800.5" y1="1130" x2="800.5" y2="1166.7" stroke="#1c1c1c" stroke-width="1.4"/>
<line x1="794.3" y1="1130" x2="806.7" y2="1130" stroke="#1c1c1c" stroke-width="1.4"/>
<line x1="794.3" y1="1166.7" x2="806.7" y2="1166.7" stroke="#1c1c1c" stroke-width="1.4"/>
<line x1="618.9" y1="813.3" x2="631.9" y2="813.3" stroke="#0d0d0d" stroke-width="2.4"/>
<line x1="736.5" y1="1198.2" x2="748.5" y2="1198.2" stroke="#0d0d0d" stroke-width="2.2"/>
<line x1="151" y1="1016" x2="731.8" y2="1016" stroke="#e3141c" stroke-width="2.5" stroke-dasharray="8.4 3.2"/>
<line x1="151" y1="1033" x2="731.8" y2="1033" stroke="#e3141c" stroke-width="2.7"/>
<polygon points="643.8,746.6 652.6,746.6 652.6,767.4 660.9,767.4 648.2,791.6 635.5,767.4 643.8,767.4" fill="url(#lg)"/>
<polygon points="682.8,746.6 691.6,746.6 691.6,767.4 699.9,767.4 687.2,791.6 674.5,767.4 682.8,767.4" fill="url(#dg)"/>
<polygon points="782.8,1175.6 791.6,1175.6 791.6,1196 799.9,1196 787.2,1220.2 774.5,1196 782.8,1196" fill="#000"/>
<polygon points="196.1,736.7 204.9,736.7 204.9,744.4 213.2,744.4 200.5,769.8 187.8,744.4 196.1,744.4" fill="#000"/>
<polygon points="196.1,783.8 204.9,783.8 204.9,791.4 213.2,791.4 200.5,815.6 187.8,791.4 196.1,791.4" fill="url(#dg)"/>
<polygon points="197.9,821.2 206.7,821.2 206.7,828.9 215,828.9 202.3,853.3 189.6,828.9 197.9,828.9" fill="url(#lg)"/>
<text x="214.74" y="763.4" font-size="26.5" textLength="201.32" lengthAdjust="spacingAndGlyphs">25 µL on surface</text>
<text x="214.74" y="802.9" font-size="26.5" textLength="201.32" lengthAdjust="spacingAndGlyphs">50 µL on surface</text>
<text x="219.14" y="841" font-size="26.5" textLength="201.92" lengthAdjust="spacingAndGlyphs">75 µL on surface</text>
<!-- d -->
<rect x="960.5" y="707.8" width="659.1" height="518.6" fill="none" stroke="#1c1c1c" stroke-width="1.5"/>
<line x1="952.1" y1="707.8" x2="960.5" y2="707.8" stroke="#1c1c1c" stroke-width="1.5"/>
<line x1="954.2" y1="828.63" x2="960.5" y2="828.63" stroke="#1c1c1c" stroke-width="1.5"/>
<line x1="954.2" y1="798.19" x2="960.5" y2="798.19" stroke="#1c1c1c" stroke-width="1.5"/>
<line x1="954.2" y1="776.59" x2="960.5" y2="776.59" stroke="#1c1c1c" stroke-width="1.5"/>
<line x1="954.2" y1="759.84" x2="960.5" y2="759.84" stroke="#1c1c1c" stroke-width="1.5"/>
<line x1="954.2" y1="746.15" x2="960.5" y2="746.15" stroke="#1c1c1c" stroke-width="1.5"/>
<line x1="954.2" y1="734.58" x2="960.5" y2="734.58" stroke="#1c1c1c" stroke-width="1.5"/>
<line x1="954.2" y1="724.55" x2="960.5" y2="724.55" stroke="#1c1c1c" stroke-width="1.5"/>
<line x1="954.2" y1="715.71" x2="960.5" y2="715.71" stroke="#1c1c1c" stroke-width="1.5"/>
<line x1="952.1" y1="880.67" x2="960.5" y2="880.67" stroke="#1c1c1c" stroke-width="1.5"/>
<line x1="954.2" y1="1001.5" x2="960.5" y2="1001.5" stroke="#1c1c1c" stroke-width="1.5"/>
<line x1="954.2" y1="971.05" x2="960.5" y2="971.05" stroke="#1c1c1c" stroke-width="1.5"/>
<line x1="954.2" y1="949.46" x2="960.5" y2="949.46" stroke="#1c1c1c" stroke-width="1.5"/>
<line x1="954.2" y1="932.7" x2="960.5" y2="932.7" stroke="#1c1c1c" stroke-width="1.5"/>
<line x1="954.2" y1="919.02" x2="960.5" y2="919.02" stroke="#1c1c1c" stroke-width="1.5"/>
<line x1="954.2" y1="907.44" x2="960.5" y2="907.44" stroke="#1c1c1c" stroke-width="1.5"/>
<line x1="954.2" y1="897.42" x2="960.5" y2="897.42" stroke="#1c1c1c" stroke-width="1.5"/>
<line x1="954.2" y1="888.58" x2="960.5" y2="888.58" stroke="#1c1c1c" stroke-width="1.5"/>
<line x1="952.1" y1="1053.53" x2="960.5" y2="1053.53" stroke="#1c1c1c" stroke-width="1.5"/>
<line x1="954.2" y1="1174.36" x2="960.5" y2="1174.36" stroke="#1c1c1c" stroke-width="1.5"/>
<line x1="954.2" y1="1143.92" x2="960.5" y2="1143.92" stroke="#1c1c1c" stroke-width="1.5"/>
<line x1="954.2" y1="1122.32" x2="960.5" y2="1122.32" stroke="#1c1c1c" stroke-width="1.5"/>
<line x1="954.2" y1="1105.57" x2="960.5" y2="1105.57" stroke="#1c1c1c" stroke-width="1.5"/>
<line x1="954.2" y1="1091.88" x2="960.5" y2="1091.88" stroke="#1c1c1c" stroke-width="1.5"/>
<line x1="954.2" y1="1080.31" x2="960.5" y2="1080.31" stroke="#1c1c1c" stroke-width="1.5"/>
<line x1="954.2" y1="1070.29" x2="960.5" y2="1070.29" stroke="#1c1c1c" stroke-width="1.5"/>
<line x1="954.2" y1="1061.44" x2="960.5" y2="1061.44" stroke="#1c1c1c" stroke-width="1.5"/>
<line x1="952.1" y1="1226.4" x2="960.5" y2="1226.4" stroke="#1c1c1c" stroke-width="1.5"/>
<line x1="960.5" y1="1226.4" x2="960.5" y2="1234.7" stroke="#1c1c1c" stroke-width="1.5"/>
<line x1="997.9" y1="1226.4" x2="997.9" y2="1234.7" stroke="#1c1c1c" stroke-width="1.5"/>
<line x1="1019.78" y1="1226.4" x2="1019.78" y2="1234.7" stroke="#1c1c1c" stroke-width="1.5"/>
<line x1="1035.31" y1="1226.4" x2="1035.31" y2="1234.7" stroke="#1c1c1c" stroke-width="1.5"/>
<line x1="1047.35" y1="1226.4" x2="1047.35" y2="1234.7" stroke="#1c1c1c" stroke-width="1.5"/>
<line x1="1057.19" y1="1226.4" x2="1057.19" y2="1234.7" stroke="#1c1c1c" stroke-width="1.5"/>
<line x1="1065.5" y1="1226.4" x2="1065.5" y2="1234.7" stroke="#1c1c1c" stroke-width="1.5"/>
<line x1="1072.71" y1="1226.4" x2="1072.71" y2="1234.7" stroke="#1c1c1c" stroke-width="1.5"/>
<line x1="1079.06" y1="1226.4" x2="1079.06" y2="1234.7" stroke="#1c1c1c" stroke-width="1.5"/>
<line x1="1084.75" y1="1226.4" x2="1084.75" y2="1234.7" stroke="#1c1c1c" stroke-width="1.5"/>
<line x1="1122.15" y1="1226.4" x2="1122.15" y2="1234.7" stroke="#1c1c1c" stroke-width="1.5"/>
<line x1="1144.03" y1="1226.4" x2="1144.03" y2="1234.7" stroke="#1c1c1c" stroke-width="1.5"/>
<line x1="1159.56" y1="1226.4" x2="1159.56" y2="1234.7" stroke="#1c1c1c" stroke-width="1.5"/>
<line x1="1171.6" y1="1226.4" x2="1171.6" y2="1234.7" stroke="#1c1c1c" stroke-width="1.5"/>
<line x1="1181.44" y1="1226.4" x2="1181.44" y2="1234.7" stroke="#1c1c1c" stroke-width="1.5"/>
<line x1="1189.75" y1="1226.4" x2="1189.75" y2="1234.7" stroke="#1c1c1c" stroke-width="1.5"/>
<line x1="1196.96" y1="1226.4" x2="1196.96" y2="1234.7" stroke="#1c1c1c" stroke-width="1.5"/>
<line x1="1203.31" y1="1226.4" x2="1203.31" y2="1234.7" stroke="#1c1c1c" stroke-width="1.5"/>
<line x1="1209" y1="1226.4" x2="1209" y2="1234.7" stroke="#1c1c1c" stroke-width="1.5"/>
<line x1="1246.4" y1="1226.4" x2="1246.4" y2="1234.7" stroke="#1c1c1c" stroke-width="1.5"/>
<line x1="1268.28" y1="1226.4" x2="1268.28" y2="1234.7" stroke="#1c1c1c" stroke-width="1.5"/>
<line x1="1283.81" y1="1226.4" x2="1283.81" y2="1234.7" stroke="#1c1c1c" stroke-width="1.5"/>
<line x1="1295.85" y1="1226.4" x2="1295.85" y2="1234.7" stroke="#1c1c1c" stroke-width="1.5"/>
<line x1="1305.69" y1="1226.4" x2="1305.69" y2="1234.7" stroke="#1c1c1c" stroke-width="1.5"/>
<line x1="1314" y1="1226.4" x2="1314" y2="1234.7" stroke="#1c1c1c" stroke-width="1.5"/>
<line x1="1321.21" y1="1226.4" x2="1321.21" y2="1234.7" stroke="#1c1c1c" stroke-width="1.5"/>
<line x1="1327.56" y1="1226.4" x2="1327.56" y2="1234.7" stroke="#1c1c1c" stroke-width="1.5"/>
<line x1="1333.25" y1="1226.4" x2="1333.25" y2="1234.7" stroke="#1c1c1c" stroke-width="1.5"/>
<line x1="1370.65" y1="1226.4" x2="1370.65" y2="1234.7" stroke="#1c1c1c" stroke-width="1.5"/>
<line x1="1392.53" y1="1226.4" x2="1392.53" y2="1234.7" stroke="#1c1c1c" stroke-width="1.5"/>
<line x1="1408.06" y1="1226.4" x2="1408.06" y2="1234.7" stroke="#1c1c1c" stroke-width="1.5"/>
<line x1="1420.1" y1="1226.4" x2="1420.1" y2="1234.7" stroke="#1c1c1c" stroke-width="1.5"/>
<line x1="1429.94" y1="1226.4" x2="1429.94" y2="1234.7" stroke="#1c1c1c" stroke-width="1.5"/>
<line x1="1438.25" y1="1226.4" x2="1438.25" y2="1234.7" stroke="#1c1c1c" stroke-width="1.5"/>
<line x1="1445.46" y1="1226.4" x2="1445.46" y2="1234.7" stroke="#1c1c1c" stroke-width="1.5"/>
<line x1="1451.81" y1="1226.4" x2="1451.81" y2="1234.7" stroke="#1c1c1c" stroke-width="1.5"/>
<line x1="1457.5" y1="1226.4" x2="1457.5" y2="1234.7" stroke="#1c1c1c" stroke-width="1.5"/>
<line x1="1494.9" y1="1226.4" x2="1494.9" y2="1234.7" stroke="#1c1c1c" stroke-width="1.5"/>
<line x1="1516.78" y1="1226.4" x2="1516.78" y2="1234.7" stroke="#1c1c1c" stroke-width="1.5"/>
<line x1="1532.31" y1="1226.4" x2="1532.31" y2="1234.7" stroke="#1c1c1c" stroke-width="1.5"/>
<line x1="1544.35" y1="1226.4" x2="1544.35" y2="1234.7" stroke="#1c1c1c" stroke-width="1.5"/>
<line x1="1554.19" y1="1226.4" x2="1554.19" y2="1234.7" stroke="#1c1c1c" stroke-width="1.5"/>
<line x1="1562.5" y1="1226.4" x2="1562.5" y2="1234.7" stroke="#1c1c1c" stroke-width="1.5"/>
<line x1="1569.71" y1="1226.4" x2="1569.71" y2="1234.7" stroke="#1c1c1c" stroke-width="1.5"/>
<line x1="1576.06" y1="1226.4" x2="1576.06" y2="1234.7" stroke="#1c1c1c" stroke-width="1.5"/>
<line x1="1581.75" y1="1226.4" x2="1581.75" y2="1234.7" stroke="#1c1c1c" stroke-width="1.5"/>
<line x1="1619.15" y1="1226.4" x2="1619.15" y2="1234.7" stroke="#1c1c1c" stroke-width="1.5"/>
<text x="853.42" y="718" font-size="27" textLength="83.66" lengthAdjust="spacingAndGlyphs">10,000</text>
<text x="868.72" y="891.5" font-size="27" textLength="68.36" lengthAdjust="spacingAndGlyphs">1,000</text>
<text x="886.52" y="1062.8" font-size="27" textLength="44.16" lengthAdjust="spacingAndGlyphs">100</text>
<text x="902.62" y="1235.2" font-size="27" textLength="28.06" lengthAdjust="spacingAndGlyphs">10</text>
<text x="933.12" y="1274.8" font-size="27" textLength="53.56" lengthAdjust="spacingAndGlyphs">0.01</text>
<text x="1065.92" y="1274.8" font-size="27" textLength="36.56" lengthAdjust="spacingAndGlyphs">0.1</text>
<text x="1318.52" y="1274.8" font-size="27" textLength="30.86" lengthAdjust="spacingAndGlyphs">10</text>
<text x="1436.32" y="1274.8" font-size="27" textLength="45.46" lengthAdjust="spacingAndGlyphs">100</text>
<text x="1551.62" y="1274.8" font-size="27" textLength="61.26" lengthAdjust="spacingAndGlyphs">1000</text>
<text x="1210.9" y="1274.8" font-size="27" text-anchor="middle">1</text>
<text x="1093.2" y="1313.9" font-size="32.5" textLength="38.1" lengthAdjust="spacingAndGlyphs">Cu</text>
<text x="1131.72" y="1303.5" font-size="19.5" textLength="23.56" lengthAdjust="spacingAndGlyphs">2+</text>
<text x="1163.7" y="1313.9" font-size="32.5" textLength="320.8" lengthAdjust="spacingAndGlyphs">concentration, µg/mL</text>
<text font-size="34" textLength="321.32" lengthAdjust="spacingAndGlyphs" transform="translate(861.8 1114.96) rotate(-90)">Bioluminescence, RLU</text>
<text x="846.3" y="684.3" font-size="48" textLength="26" lengthAdjust="spacingAndGlyphs" font-weight="bold" fill="#000">d</text>
<polygon points="964,784.1 979,800.3 964,816.5 949,800.3" fill="none" stroke="#0d0d0d" stroke-width="2.6" stroke-linejoin="miter"/>
<polygon points="1023.3,782.9 1038.3,799.1 1023.3,815.3 1008.3,799.1" fill="none" stroke="#0d0d0d" stroke-width="2.6" stroke-linejoin="miter"/>
<polygon points="1083.1,784.7 1098.1,800.9 1083.1,817.1 1068.1,800.9" fill="none" stroke="#0d0d0d" stroke-width="2.6" stroke-linejoin="miter"/>
<polygon points="1142.1,784.7 1157.1,800.9 1142.1,817.1 1127.1,800.9" fill="none" stroke="#0d0d0d" stroke-width="2.6" stroke-linejoin="miter"/>
<polygon points="1201.4,785.4 1216.4,801.6 1201.4,817.8 1186.4,801.6" fill="none" stroke="#0d0d0d" stroke-width="2.6" stroke-linejoin="miter"/>
<polygon points="1261.3,782.9 1276.3,799.1 1261.3,815.3 1246.3,799.1" fill="none" stroke="#0d0d0d" stroke-width="2.6" stroke-linejoin="miter"/>
<polygon points="1320.9,779.6 1335.9,795.8 1320.9,812 1305.9,795.8" fill="none" stroke="#0d0d0d" stroke-width="2.6" stroke-linejoin="miter"/>
<polygon points="1380.2,775 1395.2,791.2 1380.2,807.4 1365.2,791.2" fill="none" stroke="#0d0d0d" stroke-width="2.6" stroke-linejoin="miter"/>
<polygon points="1439.2,782.7 1454.2,798.9 1439.2,815.1 1424.2,798.9" fill="none" stroke="#0d0d0d" stroke-width="2.6" stroke-linejoin="miter"/>
<polygon points="1497.2,805.8 1512.2,822 1497.2,838.2 1482.2,822" fill="none" stroke="#0d0d0d" stroke-width="2.6" stroke-linejoin="miter"/>
<polygon points="1556.5,989.7 1571.5,1005.9 1556.5,1022.1 1541.5,1005.9" fill="none" stroke="#0d0d0d" stroke-width="2.6" stroke-linejoin="miter"/>
<polygon points="1616.4,1118.5 1631.4,1134.7 1616.4,1150.9 1601.4,1134.7" fill="none" stroke="#0d0d0d" stroke-width="2.6" stroke-linejoin="miter"/>
<line x1="964" y1="793" x2="964" y2="806" stroke="#1c1c1c" stroke-width="1.4"/>
<line x1="957.8" y1="793" x2="970.2" y2="793" stroke="#1c1c1c" stroke-width="1.4"/>
<line x1="957.8" y1="806" x2="970.2" y2="806" stroke="#1c1c1c" stroke-width="1.4"/>
<line x1="1023.3" y1="787" x2="1023.3" y2="812" stroke="#1c1c1c" stroke-width="1.4"/>
<line x1="1017.1" y1="787" x2="1029.5" y2="787" stroke="#1c1c1c" stroke-width="1.4"/>
<line x1="1017.1" y1="812" x2="1029.5" y2="812" stroke="#1c1c1c" stroke-width="1.4"/>
<line x1="1083.1" y1="790" x2="1083.1" y2="812" stroke="#1c1c1c" stroke-width="1.4"/>
<line x1="1076.9" y1="790" x2="1089.3" y2="790" stroke="#1c1c1c" stroke-width="1.4"/>
<line x1="1076.9" y1="812" x2="1089.3" y2="812" stroke="#1c1c1c" stroke-width="1.4"/>
<line x1="1142.1" y1="789" x2="1142.1" y2="813" stroke="#1c1c1c" stroke-width="1.4"/>
<line x1="1135.9" y1="789" x2="1148.3" y2="789" stroke="#1c1c1c" stroke-width="1.4"/>
<line x1="1135.9" y1="813" x2="1148.3" y2="813" stroke="#1c1c1c" stroke-width="1.4"/>
<line x1="1201.4" y1="790" x2="1201.4" y2="814" stroke="#1c1c1c" stroke-width="1.4"/>
<line x1="1195.2" y1="790" x2="1207.6" y2="790" stroke="#1c1c1c" stroke-width="1.4"/>
<line x1="1195.2" y1="814" x2="1207.6" y2="814" stroke="#1c1c1c" stroke-width="1.4"/>
<line x1="1261.3" y1="784.4" x2="1261.3" y2="814.9" stroke="#1c1c1c" stroke-width="1.4"/>
<line x1="1255.1" y1="784.4" x2="1267.5" y2="784.4" stroke="#1c1c1c" stroke-width="1.4"/>
<line x1="1255.1" y1="814.9" x2="1267.5" y2="814.9" stroke="#1c1c1c" stroke-width="1.4"/>
<line x1="1320.9" y1="781.8" x2="1320.9" y2="811" stroke="#1c1c1c" stroke-width="1.4"/>
<line x1="1314.7" y1="781.8" x2="1327.1" y2="781.8" stroke="#1c1c1c" stroke-width="1.4"/>
<line x1="1314.7" y1="811" x2="1327.1" y2="811" stroke="#1c1c1c" stroke-width="1.4"/>
<line x1="1380.2" y1="784.4" x2="1380.2" y2="800.9" stroke="#1c1c1c" stroke-width="1.4"/>
<line x1="1374" y1="784.4" x2="1386.4" y2="784.4" stroke="#1c1c1c" stroke-width="1.4"/>
<line x1="1374" y1="800.9" x2="1386.4" y2="800.9" stroke="#1c1c1c" stroke-width="1.4"/>
<line x1="1439.2" y1="792" x2="1439.2" y2="806" stroke="#1c1c1c" stroke-width="1.4"/>
<line x1="1433" y1="792" x2="1445.4" y2="792" stroke="#1c1c1c" stroke-width="1.4"/>
<line x1="1433" y1="806" x2="1445.4" y2="806" stroke="#1c1c1c" stroke-width="1.4"/>
<line x1="1497.2" y1="781.8" x2="1497.2" y2="913.4" stroke="#1c1c1c" stroke-width="1.4"/>
<line x1="1491" y1="781.8" x2="1503.4" y2="781.8" stroke="#1c1c1c" stroke-width="1.4"/>
<line x1="1491" y1="913.4" x2="1503.4" y2="913.4" stroke="#1c1c1c" stroke-width="1.4"/>
<line x1="1616.4" y1="1113.6" x2="1616.4" y2="1167" stroke="#1c1c1c" stroke-width="1.4"/>
<line x1="1610.2" y1="1113.6" x2="1622.6" y2="1113.6" stroke="#1c1c1c" stroke-width="1.4"/>
<line x1="1610.2" y1="1167" x2="1622.6" y2="1167" stroke="#1c1c1c" stroke-width="1.4"/>
<line x1="1550.5" y1="1005.9" x2="1562.5" y2="1005.9" stroke="#0d0d0d" stroke-width="1.8"/>
<line x1="959" y1="813" x2="1540" y2="813" stroke="#e3141c" stroke-width="2.5" stroke-dasharray="8.4 3.2"/>
<line x1="959" y1="801.3" x2="1540" y2="801.3" stroke="#e3141c" stroke-width="2.8"/>
<polygon points="1462.5,746.7 1471.3,746.7 1471.3,767.8 1479.6,767.8 1466.9,792 1454.2,767.8 1462.5,767.8" fill="url(#lg)"/>
<polygon points="1500.4,768.3 1509.2,768.3 1509.2,789.4 1517.5,789.4 1504.8,813.6 1492.1,789.4 1500.4,789.4" fill="url(#dg)"/>
<polygon points="1601.5,1175.5 1610.3,1175.5 1610.3,1196.3 1618.6,1196.3 1605.9,1220.5 1593.2,1196.3 1601.5,1196.3" fill="#000"/>
<polygon points="980,1080.5 988.8,1080.5 988.8,1088.2 997.1,1088.2 984.4,1112.9 971.7,1088.2 980,1088.2" fill="#000"/>
<polygon points="980,1123.8 988.8,1123.8 988.8,1131.4 997.1,1131.4 984.4,1155.6 971.7,1131.4 980,1131.4" fill="url(#dg)"/>
<polygon points="981.3,1161.2 990.1,1161.2 990.1,1168.9 998.4,1168.9 985.7,1193.3 973,1168.9 981.3,1168.9" fill="url(#lg)"/>
<text x="998.54" y="1104" font-size="26.5" textLength="201.92" lengthAdjust="spacingAndGlyphs">25 µL on surface</text>
<text x="998.54" y="1142.9" font-size="26.5" textLength="201.92" lengthAdjust="spacingAndGlyphs">50 µL on surface</text>
<text x="1003.64" y="1181" font-size="26.5" textLength="200.62" lengthAdjust="spacingAndGlyphs">75 µL on surface</text>
<!-- e -->
<line x1="155.3" y1="1345.6" x2="806.5" y2="1345.6" stroke="#222" stroke-width="1.3"/>
<line x1="808.5" y1="1346.1" x2="808.5" y2="1869" stroke="#1a1a1a" stroke-width="1.8"/>
<rect x="182.5" y="1464.9" width="56.7" height="404.1" fill="#000"/>
<rect x="267.2" y="1638" width="57.3" height="231" fill="#9c9ba0"/>
<rect x="409.4" y="1466.2" width="56.8" height="402.8" fill="#000"/>
<rect x="495" y="1487" width="56.4" height="382" fill="#9c9ba0"/>
<rect x="636.2" y="1477.1" width="56.5" height="391.9" fill="#000"/>
<rect x="720.7" y="1471.3" width="56.8" height="397.7" fill="#9c9ba0"/>
<line x1="211.2" y1="1463.6" x2="211.2" y2="1465.9" stroke="#000" stroke-width="3.8"/>
<line x1="197.1" y1="1463.6" x2="225.3" y2="1463.6" stroke="#000" stroke-width="3.6"/>
<line x1="296" y1="1628.2" x2="296" y2="1639" stroke="#000" stroke-width="3.8"/>
<line x1="281.9" y1="1628.2" x2="310.1" y2="1628.2" stroke="#000" stroke-width="3.6"/>
<line x1="438" y1="1464.3" x2="438" y2="1467.2" stroke="#000" stroke-width="3.8"/>
<line x1="423.9" y1="1464.3" x2="452.1" y2="1464.3" stroke="#000" stroke-width="3.6"/>
<line x1="523.2" y1="1478" x2="523.2" y2="1488" stroke="#000" stroke-width="3.8"/>
<line x1="509.1" y1="1478" x2="537.3" y2="1478" stroke="#000" stroke-width="3.6"/>
<line x1="664.5" y1="1470.8" x2="664.5" y2="1478.1" stroke="#000" stroke-width="3.8"/>
<line x1="650.4" y1="1470.8" x2="678.6" y2="1470.8" stroke="#000" stroke-width="3.6"/>
<line x1="749.2" y1="1470.6" x2="749.2" y2="1472.3" stroke="#000" stroke-width="3.8"/>
<line x1="735.1" y1="1470.6" x2="763.3" y2="1470.6" stroke="#000" stroke-width="3.6"/>
<rect x="151.9" y="1349.1" width="5.8" height="84.08" fill="#000"/>
<rect x="151.8" y="1432.68" width="4.8" height="438.82" fill="#000"/>
<rect x="142" y="1866.5" width="667.4" height="5" fill="#000"/>
<line x1="141.8" y1="1869" x2="152.3" y2="1869" stroke="#000" stroke-width="4.2"/>
<line x1="147.6" y1="1850.26" x2="152.3" y2="1850.26" stroke="#000" stroke-width="2.8"/>
<line x1="147.6" y1="1839.29" x2="152.3" y2="1839.29" stroke="#000" stroke-width="2.8"/>
<line x1="147.6" y1="1831.52" x2="152.3" y2="1831.52" stroke="#000" stroke-width="2.8"/>
<line x1="147.6" y1="1825.48" x2="152.3" y2="1825.48" stroke="#000" stroke-width="2.8"/>
<line x1="147.6" y1="1820.55" x2="152.3" y2="1820.55" stroke="#000" stroke-width="2.8"/>
<line x1="147.6" y1="1816.38" x2="152.3" y2="1816.38" stroke="#000" stroke-width="2.8"/>
<line x1="147.6" y1="1812.77" x2="152.3" y2="1812.77" stroke="#000" stroke-width="2.8"/>
<line x1="147.6" y1="1809.59" x2="152.3" y2="1809.59" stroke="#000" stroke-width="2.8"/>
<line x1="141.8" y1="1806.74" x2="152.3" y2="1806.74" stroke="#000" stroke-width="4.2"/>
<line x1="147.6" y1="1788" x2="152.3" y2="1788" stroke="#000" stroke-width="2.8"/>
<line x1="147.6" y1="1777.03" x2="152.3" y2="1777.03" stroke="#000" stroke-width="2.8"/>
<line x1="147.6" y1="1769.26" x2="152.3" y2="1769.26" stroke="#000" stroke-width="2.8"/>
<line x1="147.6" y1="1763.22" x2="152.3" y2="1763.22" stroke="#000" stroke-width="2.8"/>
<line x1="147.6" y1="1758.29" x2="152.3" y2="1758.29" stroke="#000" stroke-width="2.8"/>
<line x1="147.6" y1="1754.12" x2="152.3" y2="1754.12" stroke="#000" stroke-width="2.8"/>
<line x1="147.6" y1="1750.51" x2="152.3" y2="1750.51" stroke="#000" stroke-width="2.8"/>
<line x1="147.6" y1="1747.33" x2="152.3" y2="1747.33" stroke="#000" stroke-width="2.8"/>
<line x1="141.8" y1="1744.48" x2="152.3" y2="1744.48" stroke="#000" stroke-width="4.2"/>
<line x1="147.6" y1="1725.74" x2="152.3" y2="1725.74" stroke="#000" stroke-width="2.8"/>
<line x1="147.6" y1="1714.77" x2="152.3" y2="1714.77" stroke="#000" stroke-width="2.8"/>
<line x1="147.6" y1="1707" x2="152.3" y2="1707" stroke="#000" stroke-width="2.8"/>
<line x1="147.6" y1="1700.96" x2="152.3" y2="1700.96" stroke="#000" stroke-width="2.8"/>
<line x1="147.6" y1="1696.03" x2="152.3" y2="1696.03" stroke="#000" stroke-width="2.8"/>
<line x1="147.6" y1="1691.86" x2="152.3" y2="1691.86" stroke="#000" stroke-width="2.8"/>
<line x1="147.6" y1="1688.25" x2="152.3" y2="1688.25" stroke="#000" stroke-width="2.8"/>
<line x1="147.6" y1="1685.07" x2="152.3" y2="1685.07" stroke="#000" stroke-width="2.8"/>
<line x1="141.8" y1="1682.22" x2="152.3" y2="1682.22" stroke="#000" stroke-width="4.2"/>
<line x1="147.6" y1="1663.48" x2="152.3" y2="1663.48" stroke="#000" stroke-width="2.8"/>
<line x1="147.6" y1="1652.51" x2="152.3" y2="1652.51" stroke="#000" stroke-width="2.8"/>
<line x1="147.6" y1="1644.74" x2="152.3" y2="1644.74" stroke="#000" stroke-width="2.8"/>
<line x1="147.6" y1="1638.7" x2="152.3" y2="1638.7" stroke="#000" stroke-width="2.8"/>
<line x1="147.6" y1="1633.77" x2="152.3" y2="1633.77" stroke="#000" stroke-width="2.8"/>
<line x1="147.6" y1="1629.6" x2="152.3" y2="1629.6" stroke="#000" stroke-width="2.8"/>
<line x1="147.6" y1="1625.99" x2="152.3" y2="1625.99" stroke="#000" stroke-width="2.8"/>
<line x1="147.6" y1="1622.81" x2="152.3" y2="1622.81" stroke="#000" stroke-width="2.8"/>
<line x1="141.8" y1="1619.96" x2="152.3" y2="1619.96" stroke="#000" stroke-width="4.2"/>
<line x1="147.6" y1="1601.22" x2="152.3" y2="1601.22" stroke="#000" stroke-width="2.8"/>
<line x1="147.6" y1="1590.25" x2="152.3" y2="1590.25" stroke="#000" stroke-width="2.8"/>
<line x1="147.6" y1="1582.48" x2="152.3" y2="1582.48" stroke="#000" stroke-width="2.8"/>
<line x1="147.6" y1="1576.44" x2="152.3" y2="1576.44" stroke="#000" stroke-width="2.8"/>
<line x1="147.6" y1="1571.51" x2="152.3" y2="1571.51" stroke="#000" stroke-width="2.8"/>
<line x1="147.6" y1="1567.34" x2="152.3" y2="1567.34" stroke="#000" stroke-width="2.8"/>
<line x1="147.6" y1="1563.73" x2="152.3" y2="1563.73" stroke="#000" stroke-width="2.8"/>
<line x1="147.6" y1="1560.55" x2="152.3" y2="1560.55" stroke="#000" stroke-width="2.8"/>
<line x1="141.8" y1="1557.7" x2="152.3" y2="1557.7" stroke="#000" stroke-width="4.2"/>
<line x1="147.6" y1="1538.96" x2="152.3" y2="1538.96" stroke="#000" stroke-width="2.8"/>
<line x1="147.6" y1="1527.99" x2="152.3" y2="1527.99" stroke="#000" stroke-width="2.8"/>
<line x1="147.6" y1="1520.22" x2="152.3" y2="1520.22" stroke="#000" stroke-width="2.8"/>
<line x1="147.6" y1="1514.18" x2="152.3" y2="1514.18" stroke="#000" stroke-width="2.8"/>
<line x1="147.6" y1="1509.25" x2="152.3" y2="1509.25" stroke="#000" stroke-width="2.8"/>
<line x1="147.6" y1="1505.08" x2="152.3" y2="1505.08" stroke="#000" stroke-width="2.8"/>
<line x1="147.6" y1="1501.47" x2="152.3" y2="1501.47" stroke="#000" stroke-width="2.8"/>
<line x1="147.6" y1="1498.29" x2="152.3" y2="1498.29" stroke="#000" stroke-width="2.8"/>
<line x1="141.8" y1="1495.44" x2="152.3" y2="1495.44" stroke="#000" stroke-width="4.2"/>
<line x1="147.6" y1="1476.7" x2="152.3" y2="1476.7" stroke="#000" stroke-width="2.8"/>
<line x1="147.6" y1="1465.73" x2="152.3" y2="1465.73" stroke="#000" stroke-width="2.8"/>
<line x1="147.6" y1="1457.96" x2="152.3" y2="1457.96" stroke="#000" stroke-width="2.8"/>
<line x1="147.6" y1="1451.92" x2="152.3" y2="1451.92" stroke="#000" stroke-width="2.8"/>
<line x1="147.6" y1="1446.99" x2="152.3" y2="1446.99" stroke="#000" stroke-width="2.8"/>
<line x1="147.6" y1="1442.82" x2="152.3" y2="1442.82" stroke="#000" stroke-width="2.8"/>
<line x1="147.6" y1="1439.21" x2="152.3" y2="1439.21" stroke="#000" stroke-width="2.8"/>
<line x1="147.6" y1="1436.03" x2="152.3" y2="1436.03" stroke="#000" stroke-width="2.8"/>
<line x1="141.8" y1="1433.18" x2="152.3" y2="1433.18" stroke="#000" stroke-width="4.2"/>
<line x1="141.5" y1="1350.6" x2="152.4" y2="1350.6" stroke="#000" stroke-width="4.4"/>
<line x1="148.2" y1="1408.32" x2="152.4" y2="1408.32" stroke="#000" stroke-width="2.8"/>
<line x1="148.2" y1="1393.78" x2="152.4" y2="1393.78" stroke="#000" stroke-width="2.8"/>
<line x1="148.2" y1="1383.46" x2="152.4" y2="1383.46" stroke="#000" stroke-width="2.8"/>
<line x1="148.2" y1="1375.46" x2="152.4" y2="1375.46" stroke="#000" stroke-width="2.8"/>
<line x1="148.2" y1="1368.92" x2="152.4" y2="1368.92" stroke="#000" stroke-width="2.8"/>
<line x1="148.2" y1="1363.39" x2="152.4" y2="1363.39" stroke="#000" stroke-width="2.8"/>
<line x1="148.2" y1="1358.6" x2="152.4" y2="1358.6" stroke="#000" stroke-width="2.8"/>
<line x1="148.2" y1="1354.38" x2="152.4" y2="1354.38" stroke="#000" stroke-width="2.8"/>
<line x1="252.7" y1="1871" x2="252.7" y2="1880.5" stroke="#000" stroke-width="3.5"/>
<line x1="479.7" y1="1871" x2="479.7" y2="1880.5" stroke="#000" stroke-width="3.5"/>
<line x1="706.2" y1="1871" x2="706.2" y2="1880.5" stroke="#000" stroke-width="3.5"/>
<text x="92.22" y="1881.2" font-size="27" textLength="30.46" lengthAdjust="spacingAndGlyphs">10</text>
<text x="125.64" y="1870" font-size="16.5" textLength="11.72" lengthAdjust="spacingAndGlyphs">0</text>
<text x="92.22" y="1818.94" font-size="27" textLength="30.46" lengthAdjust="spacingAndGlyphs">10</text>
<text x="125.64" y="1807.74" font-size="16.5" textLength="11.72" lengthAdjust="spacingAndGlyphs">1</text>
<text x="92.22" y="1756.68" font-size="27" textLength="30.46" lengthAdjust="spacingAndGlyphs">10</text>
<text x="125.64" y="1745.48" font-size="16.5" textLength="11.72" lengthAdjust="spacingAndGlyphs">2</text>
<text x="92.22" y="1694.42" font-size="27" textLength="30.46" lengthAdjust="spacingAndGlyphs">10</text>
<text x="125.64" y="1683.22" font-size="16.5" textLength="11.72" lengthAdjust="spacingAndGlyphs">3</text>
<text x="92.22" y="1632.16" font-size="27" textLength="30.46" lengthAdjust="spacingAndGlyphs">10</text>
<text x="125.64" y="1620.96" font-size="16.5" textLength="11.72" lengthAdjust="spacingAndGlyphs">4</text>
<text x="92.22" y="1569.9" font-size="27" textLength="30.46" lengthAdjust="spacingAndGlyphs">10</text>
<text x="125.64" y="1558.7" font-size="16.5" textLength="11.72" lengthAdjust="spacingAndGlyphs">5</text>
<text x="92.22" y="1507.64" font-size="27" textLength="30.46" lengthAdjust="spacingAndGlyphs">10</text>
<text x="125.64" y="1496.44" font-size="16.5" textLength="11.72" lengthAdjust="spacingAndGlyphs">6</text>
<text x="92.22" y="1445.38" font-size="27" textLength="30.46" lengthAdjust="spacingAndGlyphs">10</text>
<text x="125.64" y="1434.18" font-size="16.5" textLength="11.72" lengthAdjust="spacingAndGlyphs">7</text>
<text x="92.64" y="1376" font-size="31.5" textLength="30.62" lengthAdjust="spacingAndGlyphs" fill="#4a4a4a">10</text>
<text x="123.84" y="1366" font-size="19" textLength="13.92" lengthAdjust="spacingAndGlyphs" fill="#4a4a4a">8</text>
<rect x="168.7" y="1365.2" width="27.3" height="17.5" fill="#000"/>
<rect x="168.7" y="1394.4" width="27.3" height="17.7" fill="url(#gsw)"/>
<text x="208.86" y="1383.6" font-size="28.5" textLength="242.98" lengthAdjust="spacingAndGlyphs">Control surface (PE)</text>
<text x="208.86" y="1429.8" font-size="28.5" textLength="186.28" lengthAdjust="spacingAndGlyphs">C11000 copper</text>
<text x="220.24" y="1916.5" font-size="29" textLength="67.22" lengthAdjust="spacingAndGlyphs">25 µl</text>
<text x="183.34" y="1956" font-size="29" textLength="139.82" lengthAdjust="spacingAndGlyphs">on surface</text>
<text x="446.64" y="1916.5" font-size="29" textLength="66.52" lengthAdjust="spacingAndGlyphs">50 µl</text>
<text x="410.34" y="1956" font-size="29" textLength="139.82" lengthAdjust="spacingAndGlyphs">on surface</text>
<text x="673.24" y="1916.5" font-size="29" textLength="66.42" lengthAdjust="spacingAndGlyphs">75 µl</text>
<text x="636.34" y="1956" font-size="29" textLength="140.22" lengthAdjust="spacingAndGlyphs">on surface</text>
<text font-size="33" textLength="292.24" lengthAdjust="spacingAndGlyphs" transform="translate(55.3 1734.22) rotate(-90)">Bacterial count, CFU</text>
<text x="31.5" y="1322.4" font-size="46" textLength="25.5" lengthAdjust="spacingAndGlyphs" font-weight="bold" fill="#000">e</text>
<text x="263.34" y="1478.2" font-size="34" textLength="68.92" lengthAdjust="spacingAndGlyphs">****</text>
<text x="498.64" y="1476.8" font-size="34" textLength="50.32" lengthAdjust="spacingAndGlyphs">***</text>
<!-- f -->
<line x1="988" y1="1352.9" x2="1638.3" y2="1352.9" stroke="#222" stroke-width="1.3"/>
<line x1="1640.3" y1="1353.4" x2="1640.3" y2="1874" stroke="#1a1a1a" stroke-width="1.8"/>
<rect x="1019.7" y="1474.3" width="56.8" height="399.7" fill="#000"/>
<rect x="1105" y="1567.5" width="56.7" height="306.5" fill="#9c9ba0"/>
<rect x="1246.5" y="1465.4" width="56.5" height="408.6" fill="#000"/>
<rect x="1331.3" y="1463.1" width="57" height="410.9" fill="#9c9ba0"/>
<rect x="1472.3" y="1474.3" width="56.7" height="399.7" fill="#000"/>
<rect x="1557" y="1478.9" width="57.3" height="395.1" fill="#9c9ba0"/>
<line x1="1048.2" y1="1468.6" x2="1048.2" y2="1475.3" stroke="#000" stroke-width="3.8"/>
<line x1="1034.1" y1="1468.6" x2="1062.3" y2="1468.6" stroke="#000" stroke-width="3.6"/>
<line x1="1133.5" y1="1550.5" x2="1133.5" y2="1568.5" stroke="#000" stroke-width="3.8"/>
<line x1="1119.4" y1="1550.5" x2="1147.6" y2="1550.5" stroke="#000" stroke-width="3.6"/>
<line x1="1274.7" y1="1462.4" x2="1274.7" y2="1466.4" stroke="#000" stroke-width="3.8"/>
<line x1="1260.6" y1="1462.4" x2="1288.8" y2="1462.4" stroke="#000" stroke-width="3.6"/>
<line x1="1359.8" y1="1450" x2="1359.8" y2="1464.1" stroke="#000" stroke-width="3.8"/>
<line x1="1345.7" y1="1450" x2="1373.9" y2="1450" stroke="#000" stroke-width="3.6"/>
<line x1="1500.8" y1="1472.6" x2="1500.8" y2="1475.3" stroke="#000" stroke-width="3.8"/>
<line x1="1486.7" y1="1472.6" x2="1514.9" y2="1472.6" stroke="#000" stroke-width="3.6"/>
<line x1="1585.6" y1="1475.2" x2="1585.6" y2="1479.9" stroke="#000" stroke-width="3.8"/>
<line x1="1571.5" y1="1475.2" x2="1599.7" y2="1475.2" stroke="#000" stroke-width="3.6"/>
<rect x="983.6" y="1356.9" width="5.4" height="83.8" fill="#000"/>
<rect x="987.9" y="1440.2" width="5.4" height="436.3" fill="#000"/>
<rect x="979" y="1871.5" width="667" height="5" fill="#000"/>
<line x1="980.4" y1="1874" x2="988.4" y2="1874" stroke="#000" stroke-width="4.2"/>
<line x1="984" y1="1855.37" x2="988.4" y2="1855.37" stroke="#000" stroke-width="2.8"/>
<line x1="984" y1="1844.47" x2="988.4" y2="1844.47" stroke="#000" stroke-width="2.8"/>
<line x1="984" y1="1836.73" x2="988.4" y2="1836.73" stroke="#000" stroke-width="2.8"/>
<line x1="984" y1="1830.73" x2="988.4" y2="1830.73" stroke="#000" stroke-width="2.8"/>
<line x1="984" y1="1825.83" x2="988.4" y2="1825.83" stroke="#000" stroke-width="2.8"/>
<line x1="984" y1="1821.69" x2="988.4" y2="1821.69" stroke="#000" stroke-width="2.8"/>
<line x1="984" y1="1818.1" x2="988.4" y2="1818.1" stroke="#000" stroke-width="2.8"/>
<line x1="984" y1="1814.93" x2="988.4" y2="1814.93" stroke="#000" stroke-width="2.8"/>
<line x1="980.4" y1="1812.1" x2="988.4" y2="1812.1" stroke="#000" stroke-width="4.2"/>
<line x1="984" y1="1793.47" x2="988.4" y2="1793.47" stroke="#000" stroke-width="2.8"/>
<line x1="984" y1="1782.57" x2="988.4" y2="1782.57" stroke="#000" stroke-width="2.8"/>
<line x1="984" y1="1774.83" x2="988.4" y2="1774.83" stroke="#000" stroke-width="2.8"/>
<line x1="984" y1="1768.83" x2="988.4" y2="1768.83" stroke="#000" stroke-width="2.8"/>
<line x1="984" y1="1763.93" x2="988.4" y2="1763.93" stroke="#000" stroke-width="2.8"/>
<line x1="984" y1="1759.79" x2="988.4" y2="1759.79" stroke="#000" stroke-width="2.8"/>
<line x1="984" y1="1756.2" x2="988.4" y2="1756.2" stroke="#000" stroke-width="2.8"/>
<line x1="984" y1="1753.03" x2="988.4" y2="1753.03" stroke="#000" stroke-width="2.8"/>
<line x1="980.4" y1="1750.2" x2="988.4" y2="1750.2" stroke="#000" stroke-width="4.2"/>
<line x1="984" y1="1731.57" x2="988.4" y2="1731.57" stroke="#000" stroke-width="2.8"/>
<line x1="984" y1="1720.67" x2="988.4" y2="1720.67" stroke="#000" stroke-width="2.8"/>
<line x1="984" y1="1712.93" x2="988.4" y2="1712.93" stroke="#000" stroke-width="2.8"/>
<line x1="984" y1="1706.93" x2="988.4" y2="1706.93" stroke="#000" stroke-width="2.8"/>
<line x1="984" y1="1702.03" x2="988.4" y2="1702.03" stroke="#000" stroke-width="2.8"/>
<line x1="984" y1="1697.89" x2="988.4" y2="1697.89" stroke="#000" stroke-width="2.8"/>
<line x1="984" y1="1694.3" x2="988.4" y2="1694.3" stroke="#000" stroke-width="2.8"/>
<line x1="984" y1="1691.13" x2="988.4" y2="1691.13" stroke="#000" stroke-width="2.8"/>
<line x1="980.4" y1="1688.3" x2="988.4" y2="1688.3" stroke="#000" stroke-width="4.2"/>
<line x1="984" y1="1669.67" x2="988.4" y2="1669.67" stroke="#000" stroke-width="2.8"/>
<line x1="984" y1="1658.77" x2="988.4" y2="1658.77" stroke="#000" stroke-width="2.8"/>
<line x1="984" y1="1651.03" x2="988.4" y2="1651.03" stroke="#000" stroke-width="2.8"/>
<line x1="984" y1="1645.03" x2="988.4" y2="1645.03" stroke="#000" stroke-width="2.8"/>
<line x1="984" y1="1640.13" x2="988.4" y2="1640.13" stroke="#000" stroke-width="2.8"/>
<line x1="984" y1="1635.99" x2="988.4" y2="1635.99" stroke="#000" stroke-width="2.8"/>
<line x1="984" y1="1632.4" x2="988.4" y2="1632.4" stroke="#000" stroke-width="2.8"/>
<line x1="984" y1="1629.23" x2="988.4" y2="1629.23" stroke="#000" stroke-width="2.8"/>
<line x1="980.4" y1="1626.4" x2="988.4" y2="1626.4" stroke="#000" stroke-width="4.2"/>
<line x1="984" y1="1607.77" x2="988.4" y2="1607.77" stroke="#000" stroke-width="2.8"/>
<line x1="984" y1="1596.87" x2="988.4" y2="1596.87" stroke="#000" stroke-width="2.8"/>
<line x1="984" y1="1589.13" x2="988.4" y2="1589.13" stroke="#000" stroke-width="2.8"/>
<line x1="984" y1="1583.13" x2="988.4" y2="1583.13" stroke="#000" stroke-width="2.8"/>
<line x1="984" y1="1578.23" x2="988.4" y2="1578.23" stroke="#000" stroke-width="2.8"/>
<line x1="984" y1="1574.09" x2="988.4" y2="1574.09" stroke="#000" stroke-width="2.8"/>
<line x1="984" y1="1570.5" x2="988.4" y2="1570.5" stroke="#000" stroke-width="2.8"/>
<line x1="984" y1="1567.33" x2="988.4" y2="1567.33" stroke="#000" stroke-width="2.8"/>
<line x1="980.4" y1="1564.5" x2="988.4" y2="1564.5" stroke="#000" stroke-width="4.2"/>
<line x1="984" y1="1545.87" x2="988.4" y2="1545.87" stroke="#000" stroke-width="2.8"/>
<line x1="984" y1="1534.97" x2="988.4" y2="1534.97" stroke="#000" stroke-width="2.8"/>
<line x1="984" y1="1527.23" x2="988.4" y2="1527.23" stroke="#000" stroke-width="2.8"/>
<line x1="984" y1="1521.23" x2="988.4" y2="1521.23" stroke="#000" stroke-width="2.8"/>
<line x1="984" y1="1516.33" x2="988.4" y2="1516.33" stroke="#000" stroke-width="2.8"/>
<line x1="984" y1="1512.19" x2="988.4" y2="1512.19" stroke="#000" stroke-width="2.8"/>
<line x1="984" y1="1508.6" x2="988.4" y2="1508.6" stroke="#000" stroke-width="2.8"/>
<line x1="984" y1="1505.43" x2="988.4" y2="1505.43" stroke="#000" stroke-width="2.8"/>
<line x1="980.4" y1="1502.6" x2="988.4" y2="1502.6" stroke="#000" stroke-width="4.2"/>
<line x1="984" y1="1483.97" x2="988.4" y2="1483.97" stroke="#000" stroke-width="2.8"/>
<line x1="984" y1="1473.07" x2="988.4" y2="1473.07" stroke="#000" stroke-width="2.8"/>
<line x1="984" y1="1465.33" x2="988.4" y2="1465.33" stroke="#000" stroke-width="2.8"/>
<line x1="984" y1="1459.33" x2="988.4" y2="1459.33" stroke="#000" stroke-width="2.8"/>
<line x1="984" y1="1454.43" x2="988.4" y2="1454.43" stroke="#000" stroke-width="2.8"/>
<line x1="984" y1="1450.29" x2="988.4" y2="1450.29" stroke="#000" stroke-width="2.8"/>
<line x1="984" y1="1446.7" x2="988.4" y2="1446.7" stroke="#000" stroke-width="2.8"/>
<line x1="984" y1="1443.53" x2="988.4" y2="1443.53" stroke="#000" stroke-width="2.8"/>
<line x1="974.8" y1="1440.7" x2="988.4" y2="1440.7" stroke="#000" stroke-width="4.2"/>
<line x1="974.5" y1="1358.4" x2="984.1" y2="1358.4" stroke="#000" stroke-width="4.4"/>
<line x1="979.7" y1="1415.93" x2="984.1" y2="1415.93" stroke="#000" stroke-width="2.8"/>
<line x1="979.7" y1="1401.43" x2="984.1" y2="1401.43" stroke="#000" stroke-width="2.8"/>
<line x1="979.7" y1="1391.15" x2="984.1" y2="1391.15" stroke="#000" stroke-width="2.8"/>
<line x1="979.7" y1="1383.17" x2="984.1" y2="1383.17" stroke="#000" stroke-width="2.8"/>
<line x1="979.7" y1="1376.66" x2="984.1" y2="1376.66" stroke="#000" stroke-width="2.8"/>
<line x1="979.7" y1="1371.15" x2="984.1" y2="1371.15" stroke="#000" stroke-width="2.8"/>
<line x1="979.7" y1="1366.38" x2="984.1" y2="1366.38" stroke="#000" stroke-width="2.8"/>
<line x1="979.7" y1="1362.17" x2="984.1" y2="1362.17" stroke="#000" stroke-width="2.8"/>
<line x1="1090.5" y1="1876" x2="1090.5" y2="1885.5" stroke="#000" stroke-width="3.5"/>
<line x1="1316.5" y1="1876" x2="1316.5" y2="1885.5" stroke="#000" stroke-width="3.5"/>
<line x1="1542.5" y1="1876" x2="1542.5" y2="1885.5" stroke="#000" stroke-width="3.5"/>
<text x="928.92" y="1885.6" font-size="27" textLength="31.16" lengthAdjust="spacingAndGlyphs">10</text>
<text x="961.94" y="1871.8" font-size="16.5" textLength="11.52" lengthAdjust="spacingAndGlyphs">0</text>
<text x="928.92" y="1823.7" font-size="27" textLength="31.16" lengthAdjust="spacingAndGlyphs">10</text>
<text x="961.94" y="1809.9" font-size="16.5" textLength="11.52" lengthAdjust="spacingAndGlyphs">1</text>
<text x="928.92" y="1761.8" font-size="27" textLength="31.16" lengthAdjust="spacingAndGlyphs">10</text>
<text x="961.94" y="1748" font-size="16.5" textLength="11.52" lengthAdjust="spacingAndGlyphs">2</text>
<text x="928.92" y="1699.9" font-size="27" textLength="31.16" lengthAdjust="spacingAndGlyphs">10</text>
<text x="961.94" y="1686.1" font-size="16.5" textLength="11.52" lengthAdjust="spacingAndGlyphs">3</text>
<text x="928.92" y="1638" font-size="27" textLength="31.16" lengthAdjust="spacingAndGlyphs">10</text>
<text x="961.94" y="1624.2" font-size="16.5" textLength="11.52" lengthAdjust="spacingAndGlyphs">4</text>
<text x="928.92" y="1576.1" font-size="27" textLength="31.16" lengthAdjust="spacingAndGlyphs">10</text>
<text x="961.94" y="1562.3" font-size="16.5" textLength="11.52" lengthAdjust="spacingAndGlyphs">5</text>
<text x="928.92" y="1514.2" font-size="27" textLength="31.16" lengthAdjust="spacingAndGlyphs">10</text>
<text x="961.94" y="1500.4" font-size="16.5" textLength="11.52" lengthAdjust="spacingAndGlyphs">6</text>
<text x="928.92" y="1452.3" font-size="27" textLength="31.16" lengthAdjust="spacingAndGlyphs">10</text>
<text x="961.94" y="1438.5" font-size="16.5" textLength="11.52" lengthAdjust="spacingAndGlyphs">7</text>
<text x="926.34" y="1385" font-size="31.5" textLength="32.12" lengthAdjust="spacingAndGlyphs" fill="#4a4a4a">10</text>
<text x="958.84" y="1374.8" font-size="19" textLength="11.92" lengthAdjust="spacingAndGlyphs" fill="#4a4a4a">8</text>
<rect x="1096" y="1364.2" width="25.5" height="17.5" fill="#000"/>
<rect x="1096" y="1394.9" width="25.5" height="17.7" fill="url(#gsw)"/>
<text x="1134.86" y="1392.4" font-size="28.5" textLength="242.98" lengthAdjust="spacingAndGlyphs">Control surface (PE)</text>
<text x="1134.86" y="1438.2" font-size="28.5" textLength="186.28" lengthAdjust="spacingAndGlyphs">C11000 copper</text>
<text x="1057.44" y="1922.4" font-size="29" textLength="66.02" lengthAdjust="spacingAndGlyphs">25 µl</text>
<text x="1020.34" y="1961" font-size="29" textLength="139.82" lengthAdjust="spacingAndGlyphs">on surface</text>
<text x="1283.04" y="1922.4" font-size="29" textLength="66.52" lengthAdjust="spacingAndGlyphs">50 µl</text>
<text x="1246.64" y="1961" font-size="29" textLength="139.82" lengthAdjust="spacingAndGlyphs">on surface</text>
<text x="1510.04" y="1922.4" font-size="29" textLength="65.22" lengthAdjust="spacingAndGlyphs">75 µl</text>
<text x="1472.64" y="1961" font-size="29" textLength="139.82" lengthAdjust="spacingAndGlyphs">on surface</text>
<text font-size="33" textLength="291.64" lengthAdjust="spacingAndGlyphs" transform="translate(865.4 1750.32) rotate(-90)">Bacterial count, CFU</text>
<text x="851.3" y="1330.6" font-size="49" textLength="19.5" lengthAdjust="spacingAndGlyphs" font-weight="bold" fill="#000">f</text>
<circle cx="1136" cy="1528.5" r="4.7" fill="#000"/>
</svg>
</body>
</html>
